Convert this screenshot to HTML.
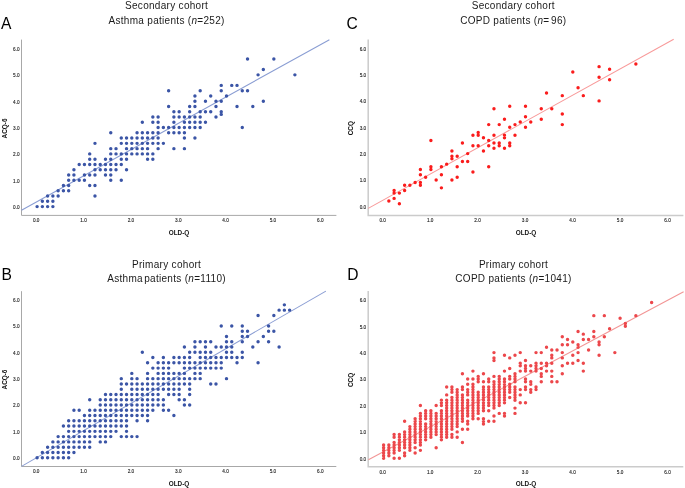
<!DOCTYPE html>
<html><head><meta charset="utf-8"><style>
html,body{margin:0;padding:0;background:#fff;width:685px;height:488px;overflow:hidden}
svg{display:block;will-change:transform}
text{font-family:"Liberation Sans", sans-serif}
.t{font-size:10px;text-anchor:middle;fill:#1a1a1a;letter-spacing:0.3px}
.tl{font-size:4.7px;text-anchor:middle;fill:#222;stroke:#222;stroke-width:0.12px}
.at{font-size:6.4px;font-weight:bold;text-anchor:middle;fill:#111}
.ax{fill:none}
</style></head><body>
<svg width="685" height="488" viewBox="0 0 685 488">
<text x="1.0" y="28.7" font-size="15.6" fill="#000">A</text>
<text x="166.6" y="9.2" class="t">Secondary cohort</text>
<text x="166.6" y="23.8" class="t">Asthma patients (<tspan font-style="italic">n</tspan>=252)</text>
<path d="M21.5 39.6V215.4H336.4" class="ax" stroke="#a8a8a8" stroke-width="1"/>
<text x="16.3" y="208.90" class="tl">0.0</text>
<text x="36.20" y="222.05" class="tl">0.0</text>
<text x="16.3" y="182.55" class="tl">1.0</text>
<text x="83.55" y="222.05" class="tl">1.0</text>
<text x="16.3" y="156.20" class="tl">2.0</text>
<text x="130.90" y="222.05" class="tl">2.0</text>
<text x="16.3" y="129.85" class="tl">3.0</text>
<text x="178.25" y="222.05" class="tl">3.0</text>
<text x="16.3" y="103.50" class="tl">4.0</text>
<text x="225.60" y="222.05" class="tl">4.0</text>
<text x="16.3" y="77.15" class="tl">5.0</text>
<text x="272.95" y="222.05" class="tl">5.0</text>
<text x="16.3" y="50.80" class="tl">6.0</text>
<text x="320.30" y="222.05" class="tl">6.0</text>
<text transform="translate(6.50 128.45) rotate(-90)" class="at">ACQ-6</text>
<text x="179.0" y="234.80" class="at">OLD-Q</text>
<line x1="21.5" y1="210.2" x2="329.4" y2="39.7" stroke="#8a9dd3" stroke-width="1.05"/>
<path fill="#3b55a6" d="M35.38 206.60a1.72 1.72 0 1 0 3.44 0a1.72 1.72 0 1 0 -3.44 0M40.64 206.60a1.72 1.72 0 1 0 3.44 0a1.72 1.72 0 1 0 -3.44 0M45.90 206.60a1.72 1.72 0 1 0 3.44 0a1.72 1.72 0 1 0 -3.44 0M51.16 206.60a1.72 1.72 0 1 0 3.44 0a1.72 1.72 0 1 0 -3.44 0M40.64 201.33a1.72 1.72 0 1 0 3.44 0a1.72 1.72 0 1 0 -3.44 0M45.90 201.33a1.72 1.72 0 1 0 3.44 0a1.72 1.72 0 1 0 -3.44 0M51.16 201.33a1.72 1.72 0 1 0 3.44 0a1.72 1.72 0 1 0 -3.44 0M45.90 196.06a1.72 1.72 0 1 0 3.44 0a1.72 1.72 0 1 0 -3.44 0M51.16 196.06a1.72 1.72 0 1 0 3.44 0a1.72 1.72 0 1 0 -3.44 0M56.42 196.06a1.72 1.72 0 1 0 3.44 0a1.72 1.72 0 1 0 -3.44 0M93.25 196.06a1.72 1.72 0 1 0 3.44 0a1.72 1.72 0 1 0 -3.44 0M56.42 190.79a1.72 1.72 0 1 0 3.44 0a1.72 1.72 0 1 0 -3.44 0M61.69 190.79a1.72 1.72 0 1 0 3.44 0a1.72 1.72 0 1 0 -3.44 0M66.95 190.79a1.72 1.72 0 1 0 3.44 0a1.72 1.72 0 1 0 -3.44 0M61.69 185.52a1.72 1.72 0 1 0 3.44 0a1.72 1.72 0 1 0 -3.44 0M66.95 185.52a1.72 1.72 0 1 0 3.44 0a1.72 1.72 0 1 0 -3.44 0M87.99 185.52a1.72 1.72 0 1 0 3.44 0a1.72 1.72 0 1 0 -3.44 0M93.25 185.52a1.72 1.72 0 1 0 3.44 0a1.72 1.72 0 1 0 -3.44 0M66.95 180.25a1.72 1.72 0 1 0 3.44 0a1.72 1.72 0 1 0 -3.44 0M72.21 180.25a1.72 1.72 0 1 0 3.44 0a1.72 1.72 0 1 0 -3.44 0M77.47 180.25a1.72 1.72 0 1 0 3.44 0a1.72 1.72 0 1 0 -3.44 0M82.73 180.25a1.72 1.72 0 1 0 3.44 0a1.72 1.72 0 1 0 -3.44 0M109.04 180.25a1.72 1.72 0 1 0 3.44 0a1.72 1.72 0 1 0 -3.44 0M119.56 180.25a1.72 1.72 0 1 0 3.44 0a1.72 1.72 0 1 0 -3.44 0M66.95 174.98a1.72 1.72 0 1 0 3.44 0a1.72 1.72 0 1 0 -3.44 0M72.21 174.98a1.72 1.72 0 1 0 3.44 0a1.72 1.72 0 1 0 -3.44 0M82.73 174.98a1.72 1.72 0 1 0 3.44 0a1.72 1.72 0 1 0 -3.44 0M87.99 174.98a1.72 1.72 0 1 0 3.44 0a1.72 1.72 0 1 0 -3.44 0M93.25 174.98a1.72 1.72 0 1 0 3.44 0a1.72 1.72 0 1 0 -3.44 0M103.77 174.98a1.72 1.72 0 1 0 3.44 0a1.72 1.72 0 1 0 -3.44 0M109.04 174.98a1.72 1.72 0 1 0 3.44 0a1.72 1.72 0 1 0 -3.44 0M72.21 169.71a1.72 1.72 0 1 0 3.44 0a1.72 1.72 0 1 0 -3.44 0M93.25 169.71a1.72 1.72 0 1 0 3.44 0a1.72 1.72 0 1 0 -3.44 0M98.51 169.71a1.72 1.72 0 1 0 3.44 0a1.72 1.72 0 1 0 -3.44 0M103.77 169.71a1.72 1.72 0 1 0 3.44 0a1.72 1.72 0 1 0 -3.44 0M109.04 169.71a1.72 1.72 0 1 0 3.44 0a1.72 1.72 0 1 0 -3.44 0M114.30 169.71a1.72 1.72 0 1 0 3.44 0a1.72 1.72 0 1 0 -3.44 0M124.82 169.71a1.72 1.72 0 1 0 3.44 0a1.72 1.72 0 1 0 -3.44 0M77.47 164.44a1.72 1.72 0 1 0 3.44 0a1.72 1.72 0 1 0 -3.44 0M82.73 164.44a1.72 1.72 0 1 0 3.44 0a1.72 1.72 0 1 0 -3.44 0M87.99 164.44a1.72 1.72 0 1 0 3.44 0a1.72 1.72 0 1 0 -3.44 0M93.25 164.44a1.72 1.72 0 1 0 3.44 0a1.72 1.72 0 1 0 -3.44 0M98.51 164.44a1.72 1.72 0 1 0 3.44 0a1.72 1.72 0 1 0 -3.44 0M103.77 164.44a1.72 1.72 0 1 0 3.44 0a1.72 1.72 0 1 0 -3.44 0M109.04 164.44a1.72 1.72 0 1 0 3.44 0a1.72 1.72 0 1 0 -3.44 0M114.30 164.44a1.72 1.72 0 1 0 3.44 0a1.72 1.72 0 1 0 -3.44 0M119.56 164.44a1.72 1.72 0 1 0 3.44 0a1.72 1.72 0 1 0 -3.44 0M87.99 159.17a1.72 1.72 0 1 0 3.44 0a1.72 1.72 0 1 0 -3.44 0M93.25 159.17a1.72 1.72 0 1 0 3.44 0a1.72 1.72 0 1 0 -3.44 0M103.77 159.17a1.72 1.72 0 1 0 3.44 0a1.72 1.72 0 1 0 -3.44 0M109.04 159.17a1.72 1.72 0 1 0 3.44 0a1.72 1.72 0 1 0 -3.44 0M119.56 159.17a1.72 1.72 0 1 0 3.44 0a1.72 1.72 0 1 0 -3.44 0M124.82 159.17a1.72 1.72 0 1 0 3.44 0a1.72 1.72 0 1 0 -3.44 0M145.86 159.17a1.72 1.72 0 1 0 3.44 0a1.72 1.72 0 1 0 -3.44 0M151.12 159.17a1.72 1.72 0 1 0 3.44 0a1.72 1.72 0 1 0 -3.44 0M87.99 153.90a1.72 1.72 0 1 0 3.44 0a1.72 1.72 0 1 0 -3.44 0M109.04 153.90a1.72 1.72 0 1 0 3.44 0a1.72 1.72 0 1 0 -3.44 0M114.30 153.90a1.72 1.72 0 1 0 3.44 0a1.72 1.72 0 1 0 -3.44 0M119.56 153.90a1.72 1.72 0 1 0 3.44 0a1.72 1.72 0 1 0 -3.44 0M124.82 153.90a1.72 1.72 0 1 0 3.44 0a1.72 1.72 0 1 0 -3.44 0M130.08 153.90a1.72 1.72 0 1 0 3.44 0a1.72 1.72 0 1 0 -3.44 0M135.34 153.90a1.72 1.72 0 1 0 3.44 0a1.72 1.72 0 1 0 -3.44 0M140.60 153.90a1.72 1.72 0 1 0 3.44 0a1.72 1.72 0 1 0 -3.44 0M145.86 153.90a1.72 1.72 0 1 0 3.44 0a1.72 1.72 0 1 0 -3.44 0M151.12 153.90a1.72 1.72 0 1 0 3.44 0a1.72 1.72 0 1 0 -3.44 0M109.04 148.63a1.72 1.72 0 1 0 3.44 0a1.72 1.72 0 1 0 -3.44 0M114.30 148.63a1.72 1.72 0 1 0 3.44 0a1.72 1.72 0 1 0 -3.44 0M124.82 148.63a1.72 1.72 0 1 0 3.44 0a1.72 1.72 0 1 0 -3.44 0M130.08 148.63a1.72 1.72 0 1 0 3.44 0a1.72 1.72 0 1 0 -3.44 0M135.34 148.63a1.72 1.72 0 1 0 3.44 0a1.72 1.72 0 1 0 -3.44 0M140.60 148.63a1.72 1.72 0 1 0 3.44 0a1.72 1.72 0 1 0 -3.44 0M145.86 148.63a1.72 1.72 0 1 0 3.44 0a1.72 1.72 0 1 0 -3.44 0M156.39 148.63a1.72 1.72 0 1 0 3.44 0a1.72 1.72 0 1 0 -3.44 0M172.17 148.63a1.72 1.72 0 1 0 3.44 0a1.72 1.72 0 1 0 -3.44 0M182.69 148.63a1.72 1.72 0 1 0 3.44 0a1.72 1.72 0 1 0 -3.44 0M93.25 143.36a1.72 1.72 0 1 0 3.44 0a1.72 1.72 0 1 0 -3.44 0M119.56 143.36a1.72 1.72 0 1 0 3.44 0a1.72 1.72 0 1 0 -3.44 0M124.82 143.36a1.72 1.72 0 1 0 3.44 0a1.72 1.72 0 1 0 -3.44 0M130.08 143.36a1.72 1.72 0 1 0 3.44 0a1.72 1.72 0 1 0 -3.44 0M135.34 143.36a1.72 1.72 0 1 0 3.44 0a1.72 1.72 0 1 0 -3.44 0M140.60 143.36a1.72 1.72 0 1 0 3.44 0a1.72 1.72 0 1 0 -3.44 0M145.86 143.36a1.72 1.72 0 1 0 3.44 0a1.72 1.72 0 1 0 -3.44 0M151.12 143.36a1.72 1.72 0 1 0 3.44 0a1.72 1.72 0 1 0 -3.44 0M156.39 143.36a1.72 1.72 0 1 0 3.44 0a1.72 1.72 0 1 0 -3.44 0M161.65 143.36a1.72 1.72 0 1 0 3.44 0a1.72 1.72 0 1 0 -3.44 0M119.56 138.09a1.72 1.72 0 1 0 3.44 0a1.72 1.72 0 1 0 -3.44 0M124.82 138.09a1.72 1.72 0 1 0 3.44 0a1.72 1.72 0 1 0 -3.44 0M130.08 138.09a1.72 1.72 0 1 0 3.44 0a1.72 1.72 0 1 0 -3.44 0M135.34 138.09a1.72 1.72 0 1 0 3.44 0a1.72 1.72 0 1 0 -3.44 0M140.60 138.09a1.72 1.72 0 1 0 3.44 0a1.72 1.72 0 1 0 -3.44 0M145.86 138.09a1.72 1.72 0 1 0 3.44 0a1.72 1.72 0 1 0 -3.44 0M151.12 138.09a1.72 1.72 0 1 0 3.44 0a1.72 1.72 0 1 0 -3.44 0M156.39 138.09a1.72 1.72 0 1 0 3.44 0a1.72 1.72 0 1 0 -3.44 0M182.69 138.09a1.72 1.72 0 1 0 3.44 0a1.72 1.72 0 1 0 -3.44 0M193.21 138.09a1.72 1.72 0 1 0 3.44 0a1.72 1.72 0 1 0 -3.44 0M109.04 132.82a1.72 1.72 0 1 0 3.44 0a1.72 1.72 0 1 0 -3.44 0M135.34 132.82a1.72 1.72 0 1 0 3.44 0a1.72 1.72 0 1 0 -3.44 0M140.60 132.82a1.72 1.72 0 1 0 3.44 0a1.72 1.72 0 1 0 -3.44 0M145.86 132.82a1.72 1.72 0 1 0 3.44 0a1.72 1.72 0 1 0 -3.44 0M151.12 132.82a1.72 1.72 0 1 0 3.44 0a1.72 1.72 0 1 0 -3.44 0M156.39 132.82a1.72 1.72 0 1 0 3.44 0a1.72 1.72 0 1 0 -3.44 0M166.91 132.82a1.72 1.72 0 1 0 3.44 0a1.72 1.72 0 1 0 -3.44 0M172.17 132.82a1.72 1.72 0 1 0 3.44 0a1.72 1.72 0 1 0 -3.44 0M177.43 132.82a1.72 1.72 0 1 0 3.44 0a1.72 1.72 0 1 0 -3.44 0M182.69 132.82a1.72 1.72 0 1 0 3.44 0a1.72 1.72 0 1 0 -3.44 0M156.39 127.55a1.72 1.72 0 1 0 3.44 0a1.72 1.72 0 1 0 -3.44 0M161.65 127.55a1.72 1.72 0 1 0 3.44 0a1.72 1.72 0 1 0 -3.44 0M166.91 127.55a1.72 1.72 0 1 0 3.44 0a1.72 1.72 0 1 0 -3.44 0M172.17 127.55a1.72 1.72 0 1 0 3.44 0a1.72 1.72 0 1 0 -3.44 0M177.43 127.55a1.72 1.72 0 1 0 3.44 0a1.72 1.72 0 1 0 -3.44 0M182.69 127.55a1.72 1.72 0 1 0 3.44 0a1.72 1.72 0 1 0 -3.44 0M187.95 127.55a1.72 1.72 0 1 0 3.44 0a1.72 1.72 0 1 0 -3.44 0M193.21 127.55a1.72 1.72 0 1 0 3.44 0a1.72 1.72 0 1 0 -3.44 0M198.47 127.55a1.72 1.72 0 1 0 3.44 0a1.72 1.72 0 1 0 -3.44 0M240.56 127.55a1.72 1.72 0 1 0 3.44 0a1.72 1.72 0 1 0 -3.44 0M140.60 122.28a1.72 1.72 0 1 0 3.44 0a1.72 1.72 0 1 0 -3.44 0M151.12 122.28a1.72 1.72 0 1 0 3.44 0a1.72 1.72 0 1 0 -3.44 0M156.39 122.28a1.72 1.72 0 1 0 3.44 0a1.72 1.72 0 1 0 -3.44 0M172.17 122.28a1.72 1.72 0 1 0 3.44 0a1.72 1.72 0 1 0 -3.44 0M182.69 122.28a1.72 1.72 0 1 0 3.44 0a1.72 1.72 0 1 0 -3.44 0M187.95 122.28a1.72 1.72 0 1 0 3.44 0a1.72 1.72 0 1 0 -3.44 0M193.21 122.28a1.72 1.72 0 1 0 3.44 0a1.72 1.72 0 1 0 -3.44 0M198.47 122.28a1.72 1.72 0 1 0 3.44 0a1.72 1.72 0 1 0 -3.44 0M203.74 122.28a1.72 1.72 0 1 0 3.44 0a1.72 1.72 0 1 0 -3.44 0M151.12 117.01a1.72 1.72 0 1 0 3.44 0a1.72 1.72 0 1 0 -3.44 0M156.39 117.01a1.72 1.72 0 1 0 3.44 0a1.72 1.72 0 1 0 -3.44 0M172.17 117.01a1.72 1.72 0 1 0 3.44 0a1.72 1.72 0 1 0 -3.44 0M177.43 117.01a1.72 1.72 0 1 0 3.44 0a1.72 1.72 0 1 0 -3.44 0M182.69 117.01a1.72 1.72 0 1 0 3.44 0a1.72 1.72 0 1 0 -3.44 0M187.95 117.01a1.72 1.72 0 1 0 3.44 0a1.72 1.72 0 1 0 -3.44 0M193.21 117.01a1.72 1.72 0 1 0 3.44 0a1.72 1.72 0 1 0 -3.44 0M198.47 117.01a1.72 1.72 0 1 0 3.44 0a1.72 1.72 0 1 0 -3.44 0M214.26 117.01a1.72 1.72 0 1 0 3.44 0a1.72 1.72 0 1 0 -3.44 0M219.52 114.37a1.72 1.72 0 1 0 3.44 0a1.72 1.72 0 1 0 -3.44 0M172.17 111.74a1.72 1.72 0 1 0 3.44 0a1.72 1.72 0 1 0 -3.44 0M177.43 111.74a1.72 1.72 0 1 0 3.44 0a1.72 1.72 0 1 0 -3.44 0M187.95 111.74a1.72 1.72 0 1 0 3.44 0a1.72 1.72 0 1 0 -3.44 0M198.47 111.74a1.72 1.72 0 1 0 3.44 0a1.72 1.72 0 1 0 -3.44 0M203.74 111.74a1.72 1.72 0 1 0 3.44 0a1.72 1.72 0 1 0 -3.44 0M209.00 111.74a1.72 1.72 0 1 0 3.44 0a1.72 1.72 0 1 0 -3.44 0M219.52 111.74a1.72 1.72 0 1 0 3.44 0a1.72 1.72 0 1 0 -3.44 0M166.91 106.47a1.72 1.72 0 1 0 3.44 0a1.72 1.72 0 1 0 -3.44 0M187.95 106.47a1.72 1.72 0 1 0 3.44 0a1.72 1.72 0 1 0 -3.44 0M193.21 106.47a1.72 1.72 0 1 0 3.44 0a1.72 1.72 0 1 0 -3.44 0M214.26 106.47a1.72 1.72 0 1 0 3.44 0a1.72 1.72 0 1 0 -3.44 0M235.30 106.47a1.72 1.72 0 1 0 3.44 0a1.72 1.72 0 1 0 -3.44 0M251.09 106.47a1.72 1.72 0 1 0 3.44 0a1.72 1.72 0 1 0 -3.44 0M193.21 101.20a1.72 1.72 0 1 0 3.44 0a1.72 1.72 0 1 0 -3.44 0M203.74 101.20a1.72 1.72 0 1 0 3.44 0a1.72 1.72 0 1 0 -3.44 0M214.26 101.20a1.72 1.72 0 1 0 3.44 0a1.72 1.72 0 1 0 -3.44 0M219.52 101.20a1.72 1.72 0 1 0 3.44 0a1.72 1.72 0 1 0 -3.44 0M261.61 101.20a1.72 1.72 0 1 0 3.44 0a1.72 1.72 0 1 0 -3.44 0M193.21 95.93a1.72 1.72 0 1 0 3.44 0a1.72 1.72 0 1 0 -3.44 0M209.00 95.93a1.72 1.72 0 1 0 3.44 0a1.72 1.72 0 1 0 -3.44 0M224.78 95.93a1.72 1.72 0 1 0 3.44 0a1.72 1.72 0 1 0 -3.44 0M166.91 90.66a1.72 1.72 0 1 0 3.44 0a1.72 1.72 0 1 0 -3.44 0M198.47 90.66a1.72 1.72 0 1 0 3.44 0a1.72 1.72 0 1 0 -3.44 0M219.52 90.66a1.72 1.72 0 1 0 3.44 0a1.72 1.72 0 1 0 -3.44 0M240.56 90.66a1.72 1.72 0 1 0 3.44 0a1.72 1.72 0 1 0 -3.44 0M245.82 90.66a1.72 1.72 0 1 0 3.44 0a1.72 1.72 0 1 0 -3.44 0M219.52 85.39a1.72 1.72 0 1 0 3.44 0a1.72 1.72 0 1 0 -3.44 0M230.04 85.39a1.72 1.72 0 1 0 3.44 0a1.72 1.72 0 1 0 -3.44 0M235.30 85.39a1.72 1.72 0 1 0 3.44 0a1.72 1.72 0 1 0 -3.44 0M256.35 74.85a1.72 1.72 0 1 0 3.44 0a1.72 1.72 0 1 0 -3.44 0M293.17 74.85a1.72 1.72 0 1 0 3.44 0a1.72 1.72 0 1 0 -3.44 0M261.61 69.58a1.72 1.72 0 1 0 3.44 0a1.72 1.72 0 1 0 -3.44 0M245.82 59.04a1.72 1.72 0 1 0 3.44 0a1.72 1.72 0 1 0 -3.44 0M272.13 59.04a1.72 1.72 0 1 0 3.44 0a1.72 1.72 0 1 0 -3.44 0"/>
<text x="346.6" y="28.7" font-size="15.6" fill="#000">C</text>
<text x="513.3" y="9.3" class="t">Secondary cohort</text>
<text x="513.3" y="23.8" class="t">COPD patients (<tspan font-style="italic">n</tspan>=<tspan dx="1.6">96</tspan>)</text>
<path d="M368.2 39.4V215.4H683.4" class="ax" stroke="#cbcbcb" stroke-width="1.5"/>
<text x="362.9" y="208.60" class="tl">0.0</text>
<text x="382.70" y="222.05" class="tl">0.0</text>
<text x="362.9" y="182.25" class="tl">1.0</text>
<text x="430.17" y="222.05" class="tl">1.0</text>
<text x="362.9" y="155.90" class="tl">2.0</text>
<text x="477.64" y="222.05" class="tl">2.0</text>
<text x="362.9" y="129.55" class="tl">3.0</text>
<text x="525.11" y="222.05" class="tl">3.0</text>
<text x="362.9" y="103.20" class="tl">4.0</text>
<text x="572.58" y="222.05" class="tl">4.0</text>
<text x="362.9" y="76.85" class="tl">5.0</text>
<text x="620.05" y="222.05" class="tl">5.0</text>
<text x="362.9" y="50.50" class="tl">6.0</text>
<text x="667.52" y="222.05" class="tl">6.0</text>
<text transform="translate(353.00 128.15) rotate(-90)" class="at">CCQ</text>
<text x="526.0" y="234.70" class="at">OLD-Q</text>
<line x1="368.2" y1="208.4" x2="673.7" y2="39.3" stroke="#f89a9a" stroke-width="1.05"/>
<path fill="#fa1c1c" d="M387.14 201.03a1.72 1.72 0 1 0 3.44 0a1.72 1.72 0 1 0 -3.44 0M392.39 198.40a1.72 1.72 0 1 0 3.44 0a1.72 1.72 0 1 0 -3.44 0M397.65 203.67a1.72 1.72 0 1 0 3.44 0a1.72 1.72 0 1 0 -3.44 0M392.39 193.12a1.72 1.72 0 1 0 3.44 0a1.72 1.72 0 1 0 -3.44 0M392.39 190.49a1.72 1.72 0 1 0 3.44 0a1.72 1.72 0 1 0 -3.44 0M397.65 193.12a1.72 1.72 0 1 0 3.44 0a1.72 1.72 0 1 0 -3.44 0M402.90 190.49a1.72 1.72 0 1 0 3.44 0a1.72 1.72 0 1 0 -3.44 0M402.90 185.22a1.72 1.72 0 1 0 3.44 0a1.72 1.72 0 1 0 -3.44 0M408.16 185.22a1.72 1.72 0 1 0 3.44 0a1.72 1.72 0 1 0 -3.44 0M413.41 182.59a1.72 1.72 0 1 0 3.44 0a1.72 1.72 0 1 0 -3.44 0M418.67 182.59a1.72 1.72 0 1 0 3.44 0a1.72 1.72 0 1 0 -3.44 0M418.67 185.22a1.72 1.72 0 1 0 3.44 0a1.72 1.72 0 1 0 -3.44 0M418.67 174.68a1.72 1.72 0 1 0 3.44 0a1.72 1.72 0 1 0 -3.44 0M418.67 169.41a1.72 1.72 0 1 0 3.44 0a1.72 1.72 0 1 0 -3.44 0M423.92 177.31a1.72 1.72 0 1 0 3.44 0a1.72 1.72 0 1 0 -3.44 0M429.18 166.78a1.72 1.72 0 1 0 3.44 0a1.72 1.72 0 1 0 -3.44 0M429.18 169.41a1.72 1.72 0 1 0 3.44 0a1.72 1.72 0 1 0 -3.44 0M429.18 140.43a1.72 1.72 0 1 0 3.44 0a1.72 1.72 0 1 0 -3.44 0M434.44 179.95a1.72 1.72 0 1 0 3.44 0a1.72 1.72 0 1 0 -3.44 0M439.69 166.78a1.72 1.72 0 1 0 3.44 0a1.72 1.72 0 1 0 -3.44 0M439.69 174.68a1.72 1.72 0 1 0 3.44 0a1.72 1.72 0 1 0 -3.44 0M439.69 187.86a1.72 1.72 0 1 0 3.44 0a1.72 1.72 0 1 0 -3.44 0M444.95 164.14a1.72 1.72 0 1 0 3.44 0a1.72 1.72 0 1 0 -3.44 0M450.20 179.95a1.72 1.72 0 1 0 3.44 0a1.72 1.72 0 1 0 -3.44 0M455.46 177.31a1.72 1.72 0 1 0 3.44 0a1.72 1.72 0 1 0 -3.44 0M455.46 166.78a1.72 1.72 0 1 0 3.44 0a1.72 1.72 0 1 0 -3.44 0M450.20 158.87a1.72 1.72 0 1 0 3.44 0a1.72 1.72 0 1 0 -3.44 0M450.20 156.24a1.72 1.72 0 1 0 3.44 0a1.72 1.72 0 1 0 -3.44 0M450.20 150.97a1.72 1.72 0 1 0 3.44 0a1.72 1.72 0 1 0 -3.44 0M455.46 156.24a1.72 1.72 0 1 0 3.44 0a1.72 1.72 0 1 0 -3.44 0M460.71 161.50a1.72 1.72 0 1 0 3.44 0a1.72 1.72 0 1 0 -3.44 0M460.71 143.06a1.72 1.72 0 1 0 3.44 0a1.72 1.72 0 1 0 -3.44 0M465.97 161.50a1.72 1.72 0 1 0 3.44 0a1.72 1.72 0 1 0 -3.44 0M465.97 153.60a1.72 1.72 0 1 0 3.44 0a1.72 1.72 0 1 0 -3.44 0M471.22 172.05a1.72 1.72 0 1 0 3.44 0a1.72 1.72 0 1 0 -3.44 0M471.22 145.69a1.72 1.72 0 1 0 3.44 0a1.72 1.72 0 1 0 -3.44 0M471.22 135.16a1.72 1.72 0 1 0 3.44 0a1.72 1.72 0 1 0 -3.44 0M476.48 145.69a1.72 1.72 0 1 0 3.44 0a1.72 1.72 0 1 0 -3.44 0M476.48 132.52a1.72 1.72 0 1 0 3.44 0a1.72 1.72 0 1 0 -3.44 0M476.48 135.16a1.72 1.72 0 1 0 3.44 0a1.72 1.72 0 1 0 -3.44 0M481.74 150.97a1.72 1.72 0 1 0 3.44 0a1.72 1.72 0 1 0 -3.44 0M481.74 137.79a1.72 1.72 0 1 0 3.44 0a1.72 1.72 0 1 0 -3.44 0M486.99 166.78a1.72 1.72 0 1 0 3.44 0a1.72 1.72 0 1 0 -3.44 0M486.99 145.69a1.72 1.72 0 1 0 3.44 0a1.72 1.72 0 1 0 -3.44 0M486.99 140.43a1.72 1.72 0 1 0 3.44 0a1.72 1.72 0 1 0 -3.44 0M486.99 124.62a1.72 1.72 0 1 0 3.44 0a1.72 1.72 0 1 0 -3.44 0M492.25 148.33a1.72 1.72 0 1 0 3.44 0a1.72 1.72 0 1 0 -3.44 0M492.25 143.06a1.72 1.72 0 1 0 3.44 0a1.72 1.72 0 1 0 -3.44 0M492.25 135.16a1.72 1.72 0 1 0 3.44 0a1.72 1.72 0 1 0 -3.44 0M492.25 108.81a1.72 1.72 0 1 0 3.44 0a1.72 1.72 0 1 0 -3.44 0M497.50 143.06a1.72 1.72 0 1 0 3.44 0a1.72 1.72 0 1 0 -3.44 0M497.50 145.69a1.72 1.72 0 1 0 3.44 0a1.72 1.72 0 1 0 -3.44 0M497.50 124.62a1.72 1.72 0 1 0 3.44 0a1.72 1.72 0 1 0 -3.44 0M502.76 148.33a1.72 1.72 0 1 0 3.44 0a1.72 1.72 0 1 0 -3.44 0M502.76 135.16a1.72 1.72 0 1 0 3.44 0a1.72 1.72 0 1 0 -3.44 0M502.76 137.79a1.72 1.72 0 1 0 3.44 0a1.72 1.72 0 1 0 -3.44 0M502.76 119.34a1.72 1.72 0 1 0 3.44 0a1.72 1.72 0 1 0 -3.44 0M508.01 143.06a1.72 1.72 0 1 0 3.44 0a1.72 1.72 0 1 0 -3.44 0M508.01 145.69a1.72 1.72 0 1 0 3.44 0a1.72 1.72 0 1 0 -3.44 0M508.01 127.25a1.72 1.72 0 1 0 3.44 0a1.72 1.72 0 1 0 -3.44 0M508.01 106.17a1.72 1.72 0 1 0 3.44 0a1.72 1.72 0 1 0 -3.44 0M513.27 135.16a1.72 1.72 0 1 0 3.44 0a1.72 1.72 0 1 0 -3.44 0M513.27 124.62a1.72 1.72 0 1 0 3.44 0a1.72 1.72 0 1 0 -3.44 0M518.52 121.98a1.72 1.72 0 1 0 3.44 0a1.72 1.72 0 1 0 -3.44 0M523.78 127.25a1.72 1.72 0 1 0 3.44 0a1.72 1.72 0 1 0 -3.44 0M523.78 116.71a1.72 1.72 0 1 0 3.44 0a1.72 1.72 0 1 0 -3.44 0M523.78 106.17a1.72 1.72 0 1 0 3.44 0a1.72 1.72 0 1 0 -3.44 0M529.04 121.98a1.72 1.72 0 1 0 3.44 0a1.72 1.72 0 1 0 -3.44 0M539.55 119.34a1.72 1.72 0 1 0 3.44 0a1.72 1.72 0 1 0 -3.44 0M539.55 108.81a1.72 1.72 0 1 0 3.44 0a1.72 1.72 0 1 0 -3.44 0M544.80 93.00a1.72 1.72 0 1 0 3.44 0a1.72 1.72 0 1 0 -3.44 0M550.06 108.81a1.72 1.72 0 1 0 3.44 0a1.72 1.72 0 1 0 -3.44 0M560.57 124.62a1.72 1.72 0 1 0 3.44 0a1.72 1.72 0 1 0 -3.44 0M560.57 114.08a1.72 1.72 0 1 0 3.44 0a1.72 1.72 0 1 0 -3.44 0M560.57 95.63a1.72 1.72 0 1 0 3.44 0a1.72 1.72 0 1 0 -3.44 0M571.08 71.91a1.72 1.72 0 1 0 3.44 0a1.72 1.72 0 1 0 -3.44 0M576.34 87.73a1.72 1.72 0 1 0 3.44 0a1.72 1.72 0 1 0 -3.44 0M581.59 95.63a1.72 1.72 0 1 0 3.44 0a1.72 1.72 0 1 0 -3.44 0M597.36 66.64a1.72 1.72 0 1 0 3.44 0a1.72 1.72 0 1 0 -3.44 0M597.36 77.19a1.72 1.72 0 1 0 3.44 0a1.72 1.72 0 1 0 -3.44 0M597.36 100.90a1.72 1.72 0 1 0 3.44 0a1.72 1.72 0 1 0 -3.44 0M607.87 69.28a1.72 1.72 0 1 0 3.44 0a1.72 1.72 0 1 0 -3.44 0M607.87 79.82a1.72 1.72 0 1 0 3.44 0a1.72 1.72 0 1 0 -3.44 0M634.15 64.01a1.72 1.72 0 1 0 3.44 0a1.72 1.72 0 1 0 -3.44 0"/>
<text x="1.4" y="279.8" font-size="15.6" fill="#000">B</text>
<text x="166.6" y="267.8" class="t">Primary cohort</text>
<text x="166.6" y="281.9" class="t">Asthma<tspan dx="-1.9"> </tspan>patients (<tspan font-style="italic">n</tspan>=1110)</text>
<path d="M21.5 291.2V466.5H336.3" class="ax" stroke="#a8a8a8" stroke-width="1"/>
<text x="16.3" y="460.00" class="tl">0.0</text>
<text x="36.20" y="473.45" class="tl">0.0</text>
<text x="16.3" y="433.65" class="tl">1.0</text>
<text x="83.55" y="473.45" class="tl">1.0</text>
<text x="16.3" y="407.30" class="tl">2.0</text>
<text x="130.90" y="473.45" class="tl">2.0</text>
<text x="16.3" y="380.95" class="tl">3.0</text>
<text x="178.25" y="473.45" class="tl">3.0</text>
<text x="16.3" y="354.60" class="tl">4.0</text>
<text x="225.60" y="473.45" class="tl">4.0</text>
<text x="16.3" y="328.25" class="tl">5.0</text>
<text x="272.95" y="473.45" class="tl">5.0</text>
<text x="16.3" y="301.90" class="tl">6.0</text>
<text x="320.30" y="473.45" class="tl">6.0</text>
<text transform="translate(6.50 379.55) rotate(-90)" class="at">ACQ-6</text>
<text x="179.0" y="485.90" class="at">OLD-Q</text>
<line x1="21.5" y1="466.4" x2="325.9" y2="291.1" stroke="#8a9dd3" stroke-width="1.05"/>
<path fill="#3b55a6" d="M35.38 457.70a1.72 1.72 0 1 0 3.44 0a1.72 1.72 0 1 0 -3.44 0M40.64 457.70a1.72 1.72 0 1 0 3.44 0a1.72 1.72 0 1 0 -3.44 0M40.64 452.43a1.72 1.72 0 1 0 3.44 0a1.72 1.72 0 1 0 -3.44 0M45.90 457.70a1.72 1.72 0 1 0 3.44 0a1.72 1.72 0 1 0 -3.44 0M45.90 452.43a1.72 1.72 0 1 0 3.44 0a1.72 1.72 0 1 0 -3.44 0M45.90 447.16a1.72 1.72 0 1 0 3.44 0a1.72 1.72 0 1 0 -3.44 0M51.16 457.70a1.72 1.72 0 1 0 3.44 0a1.72 1.72 0 1 0 -3.44 0M51.16 452.43a1.72 1.72 0 1 0 3.44 0a1.72 1.72 0 1 0 -3.44 0M51.16 447.16a1.72 1.72 0 1 0 3.44 0a1.72 1.72 0 1 0 -3.44 0M51.16 441.89a1.72 1.72 0 1 0 3.44 0a1.72 1.72 0 1 0 -3.44 0M56.42 457.70a1.72 1.72 0 1 0 3.44 0a1.72 1.72 0 1 0 -3.44 0M56.42 452.43a1.72 1.72 0 1 0 3.44 0a1.72 1.72 0 1 0 -3.44 0M56.42 447.16a1.72 1.72 0 1 0 3.44 0a1.72 1.72 0 1 0 -3.44 0M56.42 441.89a1.72 1.72 0 1 0 3.44 0a1.72 1.72 0 1 0 -3.44 0M56.42 436.62a1.72 1.72 0 1 0 3.44 0a1.72 1.72 0 1 0 -3.44 0M61.69 457.70a1.72 1.72 0 1 0 3.44 0a1.72 1.72 0 1 0 -3.44 0M61.69 452.43a1.72 1.72 0 1 0 3.44 0a1.72 1.72 0 1 0 -3.44 0M61.69 447.16a1.72 1.72 0 1 0 3.44 0a1.72 1.72 0 1 0 -3.44 0M61.69 441.89a1.72 1.72 0 1 0 3.44 0a1.72 1.72 0 1 0 -3.44 0M61.69 436.62a1.72 1.72 0 1 0 3.44 0a1.72 1.72 0 1 0 -3.44 0M61.69 426.08a1.72 1.72 0 1 0 3.44 0a1.72 1.72 0 1 0 -3.44 0M66.95 457.70a1.72 1.72 0 1 0 3.44 0a1.72 1.72 0 1 0 -3.44 0M66.95 452.43a1.72 1.72 0 1 0 3.44 0a1.72 1.72 0 1 0 -3.44 0M66.95 447.16a1.72 1.72 0 1 0 3.44 0a1.72 1.72 0 1 0 -3.44 0M66.95 441.89a1.72 1.72 0 1 0 3.44 0a1.72 1.72 0 1 0 -3.44 0M66.95 436.62a1.72 1.72 0 1 0 3.44 0a1.72 1.72 0 1 0 -3.44 0M66.95 431.35a1.72 1.72 0 1 0 3.44 0a1.72 1.72 0 1 0 -3.44 0M66.95 426.08a1.72 1.72 0 1 0 3.44 0a1.72 1.72 0 1 0 -3.44 0M66.95 420.81a1.72 1.72 0 1 0 3.44 0a1.72 1.72 0 1 0 -3.44 0M72.21 452.43a1.72 1.72 0 1 0 3.44 0a1.72 1.72 0 1 0 -3.44 0M72.21 447.16a1.72 1.72 0 1 0 3.44 0a1.72 1.72 0 1 0 -3.44 0M72.21 441.89a1.72 1.72 0 1 0 3.44 0a1.72 1.72 0 1 0 -3.44 0M72.21 436.62a1.72 1.72 0 1 0 3.44 0a1.72 1.72 0 1 0 -3.44 0M72.21 431.35a1.72 1.72 0 1 0 3.44 0a1.72 1.72 0 1 0 -3.44 0M72.21 426.08a1.72 1.72 0 1 0 3.44 0a1.72 1.72 0 1 0 -3.44 0M72.21 420.81a1.72 1.72 0 1 0 3.44 0a1.72 1.72 0 1 0 -3.44 0M72.21 410.27a1.72 1.72 0 1 0 3.44 0a1.72 1.72 0 1 0 -3.44 0M77.47 447.16a1.72 1.72 0 1 0 3.44 0a1.72 1.72 0 1 0 -3.44 0M77.47 441.89a1.72 1.72 0 1 0 3.44 0a1.72 1.72 0 1 0 -3.44 0M77.47 436.62a1.72 1.72 0 1 0 3.44 0a1.72 1.72 0 1 0 -3.44 0M77.47 431.35a1.72 1.72 0 1 0 3.44 0a1.72 1.72 0 1 0 -3.44 0M77.47 426.08a1.72 1.72 0 1 0 3.44 0a1.72 1.72 0 1 0 -3.44 0M77.47 420.81a1.72 1.72 0 1 0 3.44 0a1.72 1.72 0 1 0 -3.44 0M77.47 410.27a1.72 1.72 0 1 0 3.44 0a1.72 1.72 0 1 0 -3.44 0M82.73 447.16a1.72 1.72 0 1 0 3.44 0a1.72 1.72 0 1 0 -3.44 0M82.73 441.89a1.72 1.72 0 1 0 3.44 0a1.72 1.72 0 1 0 -3.44 0M82.73 436.62a1.72 1.72 0 1 0 3.44 0a1.72 1.72 0 1 0 -3.44 0M82.73 431.35a1.72 1.72 0 1 0 3.44 0a1.72 1.72 0 1 0 -3.44 0M82.73 426.08a1.72 1.72 0 1 0 3.44 0a1.72 1.72 0 1 0 -3.44 0M82.73 420.81a1.72 1.72 0 1 0 3.44 0a1.72 1.72 0 1 0 -3.44 0M82.73 415.54a1.72 1.72 0 1 0 3.44 0a1.72 1.72 0 1 0 -3.44 0M87.99 447.16a1.72 1.72 0 1 0 3.44 0a1.72 1.72 0 1 0 -3.44 0M87.99 441.89a1.72 1.72 0 1 0 3.44 0a1.72 1.72 0 1 0 -3.44 0M87.99 436.62a1.72 1.72 0 1 0 3.44 0a1.72 1.72 0 1 0 -3.44 0M87.99 431.35a1.72 1.72 0 1 0 3.44 0a1.72 1.72 0 1 0 -3.44 0M87.99 426.08a1.72 1.72 0 1 0 3.44 0a1.72 1.72 0 1 0 -3.44 0M87.99 420.81a1.72 1.72 0 1 0 3.44 0a1.72 1.72 0 1 0 -3.44 0M87.99 415.54a1.72 1.72 0 1 0 3.44 0a1.72 1.72 0 1 0 -3.44 0M87.99 410.27a1.72 1.72 0 1 0 3.44 0a1.72 1.72 0 1 0 -3.44 0M87.99 399.73a1.72 1.72 0 1 0 3.44 0a1.72 1.72 0 1 0 -3.44 0M93.25 436.62a1.72 1.72 0 1 0 3.44 0a1.72 1.72 0 1 0 -3.44 0M93.25 431.35a1.72 1.72 0 1 0 3.44 0a1.72 1.72 0 1 0 -3.44 0M93.25 426.08a1.72 1.72 0 1 0 3.44 0a1.72 1.72 0 1 0 -3.44 0M93.25 420.81a1.72 1.72 0 1 0 3.44 0a1.72 1.72 0 1 0 -3.44 0M93.25 415.54a1.72 1.72 0 1 0 3.44 0a1.72 1.72 0 1 0 -3.44 0M93.25 410.27a1.72 1.72 0 1 0 3.44 0a1.72 1.72 0 1 0 -3.44 0M98.51 441.89a1.72 1.72 0 1 0 3.44 0a1.72 1.72 0 1 0 -3.44 0M98.51 436.62a1.72 1.72 0 1 0 3.44 0a1.72 1.72 0 1 0 -3.44 0M98.51 431.35a1.72 1.72 0 1 0 3.44 0a1.72 1.72 0 1 0 -3.44 0M98.51 426.08a1.72 1.72 0 1 0 3.44 0a1.72 1.72 0 1 0 -3.44 0M98.51 420.81a1.72 1.72 0 1 0 3.44 0a1.72 1.72 0 1 0 -3.44 0M98.51 415.54a1.72 1.72 0 1 0 3.44 0a1.72 1.72 0 1 0 -3.44 0M98.51 410.27a1.72 1.72 0 1 0 3.44 0a1.72 1.72 0 1 0 -3.44 0M98.51 405.00a1.72 1.72 0 1 0 3.44 0a1.72 1.72 0 1 0 -3.44 0M98.51 399.73a1.72 1.72 0 1 0 3.44 0a1.72 1.72 0 1 0 -3.44 0M103.77 441.89a1.72 1.72 0 1 0 3.44 0a1.72 1.72 0 1 0 -3.44 0M103.77 436.62a1.72 1.72 0 1 0 3.44 0a1.72 1.72 0 1 0 -3.44 0M103.77 431.35a1.72 1.72 0 1 0 3.44 0a1.72 1.72 0 1 0 -3.44 0M103.77 426.08a1.72 1.72 0 1 0 3.44 0a1.72 1.72 0 1 0 -3.44 0M103.77 420.81a1.72 1.72 0 1 0 3.44 0a1.72 1.72 0 1 0 -3.44 0M103.77 415.54a1.72 1.72 0 1 0 3.44 0a1.72 1.72 0 1 0 -3.44 0M103.77 410.27a1.72 1.72 0 1 0 3.44 0a1.72 1.72 0 1 0 -3.44 0M103.77 405.00a1.72 1.72 0 1 0 3.44 0a1.72 1.72 0 1 0 -3.44 0M103.77 399.73a1.72 1.72 0 1 0 3.44 0a1.72 1.72 0 1 0 -3.44 0M103.77 394.46a1.72 1.72 0 1 0 3.44 0a1.72 1.72 0 1 0 -3.44 0M109.04 436.62a1.72 1.72 0 1 0 3.44 0a1.72 1.72 0 1 0 -3.44 0M109.04 431.35a1.72 1.72 0 1 0 3.44 0a1.72 1.72 0 1 0 -3.44 0M109.04 426.08a1.72 1.72 0 1 0 3.44 0a1.72 1.72 0 1 0 -3.44 0M109.04 420.81a1.72 1.72 0 1 0 3.44 0a1.72 1.72 0 1 0 -3.44 0M109.04 415.54a1.72 1.72 0 1 0 3.44 0a1.72 1.72 0 1 0 -3.44 0M109.04 410.27a1.72 1.72 0 1 0 3.44 0a1.72 1.72 0 1 0 -3.44 0M109.04 405.00a1.72 1.72 0 1 0 3.44 0a1.72 1.72 0 1 0 -3.44 0M109.04 399.73a1.72 1.72 0 1 0 3.44 0a1.72 1.72 0 1 0 -3.44 0M109.04 394.46a1.72 1.72 0 1 0 3.44 0a1.72 1.72 0 1 0 -3.44 0M114.30 431.35a1.72 1.72 0 1 0 3.44 0a1.72 1.72 0 1 0 -3.44 0M114.30 426.08a1.72 1.72 0 1 0 3.44 0a1.72 1.72 0 1 0 -3.44 0M114.30 420.81a1.72 1.72 0 1 0 3.44 0a1.72 1.72 0 1 0 -3.44 0M114.30 415.54a1.72 1.72 0 1 0 3.44 0a1.72 1.72 0 1 0 -3.44 0M114.30 410.27a1.72 1.72 0 1 0 3.44 0a1.72 1.72 0 1 0 -3.44 0M114.30 405.00a1.72 1.72 0 1 0 3.44 0a1.72 1.72 0 1 0 -3.44 0M114.30 399.73a1.72 1.72 0 1 0 3.44 0a1.72 1.72 0 1 0 -3.44 0M114.30 394.46a1.72 1.72 0 1 0 3.44 0a1.72 1.72 0 1 0 -3.44 0M119.56 436.62a1.72 1.72 0 1 0 3.44 0a1.72 1.72 0 1 0 -3.44 0M119.56 426.08a1.72 1.72 0 1 0 3.44 0a1.72 1.72 0 1 0 -3.44 0M119.56 420.81a1.72 1.72 0 1 0 3.44 0a1.72 1.72 0 1 0 -3.44 0M119.56 415.54a1.72 1.72 0 1 0 3.44 0a1.72 1.72 0 1 0 -3.44 0M119.56 410.27a1.72 1.72 0 1 0 3.44 0a1.72 1.72 0 1 0 -3.44 0M119.56 405.00a1.72 1.72 0 1 0 3.44 0a1.72 1.72 0 1 0 -3.44 0M119.56 399.73a1.72 1.72 0 1 0 3.44 0a1.72 1.72 0 1 0 -3.44 0M119.56 394.46a1.72 1.72 0 1 0 3.44 0a1.72 1.72 0 1 0 -3.44 0M119.56 389.19a1.72 1.72 0 1 0 3.44 0a1.72 1.72 0 1 0 -3.44 0M119.56 383.92a1.72 1.72 0 1 0 3.44 0a1.72 1.72 0 1 0 -3.44 0M119.56 378.65a1.72 1.72 0 1 0 3.44 0a1.72 1.72 0 1 0 -3.44 0M124.82 436.62a1.72 1.72 0 1 0 3.44 0a1.72 1.72 0 1 0 -3.44 0M124.82 431.35a1.72 1.72 0 1 0 3.44 0a1.72 1.72 0 1 0 -3.44 0M124.82 426.08a1.72 1.72 0 1 0 3.44 0a1.72 1.72 0 1 0 -3.44 0M124.82 420.81a1.72 1.72 0 1 0 3.44 0a1.72 1.72 0 1 0 -3.44 0M124.82 415.54a1.72 1.72 0 1 0 3.44 0a1.72 1.72 0 1 0 -3.44 0M124.82 410.27a1.72 1.72 0 1 0 3.44 0a1.72 1.72 0 1 0 -3.44 0M124.82 405.00a1.72 1.72 0 1 0 3.44 0a1.72 1.72 0 1 0 -3.44 0M124.82 399.73a1.72 1.72 0 1 0 3.44 0a1.72 1.72 0 1 0 -3.44 0M124.82 394.46a1.72 1.72 0 1 0 3.44 0a1.72 1.72 0 1 0 -3.44 0M124.82 383.92a1.72 1.72 0 1 0 3.44 0a1.72 1.72 0 1 0 -3.44 0M130.08 436.62a1.72 1.72 0 1 0 3.44 0a1.72 1.72 0 1 0 -3.44 0M130.08 415.54a1.72 1.72 0 1 0 3.44 0a1.72 1.72 0 1 0 -3.44 0M130.08 410.27a1.72 1.72 0 1 0 3.44 0a1.72 1.72 0 1 0 -3.44 0M130.08 405.00a1.72 1.72 0 1 0 3.44 0a1.72 1.72 0 1 0 -3.44 0M130.08 399.73a1.72 1.72 0 1 0 3.44 0a1.72 1.72 0 1 0 -3.44 0M130.08 394.46a1.72 1.72 0 1 0 3.44 0a1.72 1.72 0 1 0 -3.44 0M130.08 389.19a1.72 1.72 0 1 0 3.44 0a1.72 1.72 0 1 0 -3.44 0M130.08 383.92a1.72 1.72 0 1 0 3.44 0a1.72 1.72 0 1 0 -3.44 0M130.08 378.65a1.72 1.72 0 1 0 3.44 0a1.72 1.72 0 1 0 -3.44 0M130.08 373.38a1.72 1.72 0 1 0 3.44 0a1.72 1.72 0 1 0 -3.44 0M135.34 436.62a1.72 1.72 0 1 0 3.44 0a1.72 1.72 0 1 0 -3.44 0M135.34 420.81a1.72 1.72 0 1 0 3.44 0a1.72 1.72 0 1 0 -3.44 0M135.34 415.54a1.72 1.72 0 1 0 3.44 0a1.72 1.72 0 1 0 -3.44 0M135.34 410.27a1.72 1.72 0 1 0 3.44 0a1.72 1.72 0 1 0 -3.44 0M135.34 405.00a1.72 1.72 0 1 0 3.44 0a1.72 1.72 0 1 0 -3.44 0M135.34 399.73a1.72 1.72 0 1 0 3.44 0a1.72 1.72 0 1 0 -3.44 0M135.34 394.46a1.72 1.72 0 1 0 3.44 0a1.72 1.72 0 1 0 -3.44 0M135.34 389.19a1.72 1.72 0 1 0 3.44 0a1.72 1.72 0 1 0 -3.44 0M135.34 383.92a1.72 1.72 0 1 0 3.44 0a1.72 1.72 0 1 0 -3.44 0M135.34 378.65a1.72 1.72 0 1 0 3.44 0a1.72 1.72 0 1 0 -3.44 0M140.60 415.54a1.72 1.72 0 1 0 3.44 0a1.72 1.72 0 1 0 -3.44 0M140.60 410.27a1.72 1.72 0 1 0 3.44 0a1.72 1.72 0 1 0 -3.44 0M140.60 405.00a1.72 1.72 0 1 0 3.44 0a1.72 1.72 0 1 0 -3.44 0M140.60 399.73a1.72 1.72 0 1 0 3.44 0a1.72 1.72 0 1 0 -3.44 0M140.60 394.46a1.72 1.72 0 1 0 3.44 0a1.72 1.72 0 1 0 -3.44 0M140.60 389.19a1.72 1.72 0 1 0 3.44 0a1.72 1.72 0 1 0 -3.44 0M140.60 383.92a1.72 1.72 0 1 0 3.44 0a1.72 1.72 0 1 0 -3.44 0M140.60 352.30a1.72 1.72 0 1 0 3.44 0a1.72 1.72 0 1 0 -3.44 0M145.86 420.81a1.72 1.72 0 1 0 3.44 0a1.72 1.72 0 1 0 -3.44 0M145.86 415.54a1.72 1.72 0 1 0 3.44 0a1.72 1.72 0 1 0 -3.44 0M145.86 410.27a1.72 1.72 0 1 0 3.44 0a1.72 1.72 0 1 0 -3.44 0M145.86 405.00a1.72 1.72 0 1 0 3.44 0a1.72 1.72 0 1 0 -3.44 0M145.86 399.73a1.72 1.72 0 1 0 3.44 0a1.72 1.72 0 1 0 -3.44 0M145.86 394.46a1.72 1.72 0 1 0 3.44 0a1.72 1.72 0 1 0 -3.44 0M145.86 389.19a1.72 1.72 0 1 0 3.44 0a1.72 1.72 0 1 0 -3.44 0M145.86 383.92a1.72 1.72 0 1 0 3.44 0a1.72 1.72 0 1 0 -3.44 0M145.86 378.65a1.72 1.72 0 1 0 3.44 0a1.72 1.72 0 1 0 -3.44 0M145.86 373.38a1.72 1.72 0 1 0 3.44 0a1.72 1.72 0 1 0 -3.44 0M145.86 362.84a1.72 1.72 0 1 0 3.44 0a1.72 1.72 0 1 0 -3.44 0M151.12 410.27a1.72 1.72 0 1 0 3.44 0a1.72 1.72 0 1 0 -3.44 0M151.12 405.00a1.72 1.72 0 1 0 3.44 0a1.72 1.72 0 1 0 -3.44 0M151.12 399.73a1.72 1.72 0 1 0 3.44 0a1.72 1.72 0 1 0 -3.44 0M151.12 394.46a1.72 1.72 0 1 0 3.44 0a1.72 1.72 0 1 0 -3.44 0M151.12 389.19a1.72 1.72 0 1 0 3.44 0a1.72 1.72 0 1 0 -3.44 0M151.12 383.92a1.72 1.72 0 1 0 3.44 0a1.72 1.72 0 1 0 -3.44 0M151.12 378.65a1.72 1.72 0 1 0 3.44 0a1.72 1.72 0 1 0 -3.44 0M151.12 368.11a1.72 1.72 0 1 0 3.44 0a1.72 1.72 0 1 0 -3.44 0M151.12 357.57a1.72 1.72 0 1 0 3.44 0a1.72 1.72 0 1 0 -3.44 0M156.39 405.00a1.72 1.72 0 1 0 3.44 0a1.72 1.72 0 1 0 -3.44 0M156.39 399.73a1.72 1.72 0 1 0 3.44 0a1.72 1.72 0 1 0 -3.44 0M156.39 394.46a1.72 1.72 0 1 0 3.44 0a1.72 1.72 0 1 0 -3.44 0M156.39 389.19a1.72 1.72 0 1 0 3.44 0a1.72 1.72 0 1 0 -3.44 0M156.39 383.92a1.72 1.72 0 1 0 3.44 0a1.72 1.72 0 1 0 -3.44 0M156.39 378.65a1.72 1.72 0 1 0 3.44 0a1.72 1.72 0 1 0 -3.44 0M156.39 373.38a1.72 1.72 0 1 0 3.44 0a1.72 1.72 0 1 0 -3.44 0M156.39 368.11a1.72 1.72 0 1 0 3.44 0a1.72 1.72 0 1 0 -3.44 0M156.39 362.84a1.72 1.72 0 1 0 3.44 0a1.72 1.72 0 1 0 -3.44 0M161.65 410.27a1.72 1.72 0 1 0 3.44 0a1.72 1.72 0 1 0 -3.44 0M161.65 405.00a1.72 1.72 0 1 0 3.44 0a1.72 1.72 0 1 0 -3.44 0M161.65 399.73a1.72 1.72 0 1 0 3.44 0a1.72 1.72 0 1 0 -3.44 0M161.65 389.19a1.72 1.72 0 1 0 3.44 0a1.72 1.72 0 1 0 -3.44 0M161.65 383.92a1.72 1.72 0 1 0 3.44 0a1.72 1.72 0 1 0 -3.44 0M161.65 378.65a1.72 1.72 0 1 0 3.44 0a1.72 1.72 0 1 0 -3.44 0M161.65 373.38a1.72 1.72 0 1 0 3.44 0a1.72 1.72 0 1 0 -3.44 0M161.65 368.11a1.72 1.72 0 1 0 3.44 0a1.72 1.72 0 1 0 -3.44 0M161.65 362.84a1.72 1.72 0 1 0 3.44 0a1.72 1.72 0 1 0 -3.44 0M161.65 357.57a1.72 1.72 0 1 0 3.44 0a1.72 1.72 0 1 0 -3.44 0M166.91 410.27a1.72 1.72 0 1 0 3.44 0a1.72 1.72 0 1 0 -3.44 0M166.91 394.46a1.72 1.72 0 1 0 3.44 0a1.72 1.72 0 1 0 -3.44 0M166.91 389.19a1.72 1.72 0 1 0 3.44 0a1.72 1.72 0 1 0 -3.44 0M166.91 383.92a1.72 1.72 0 1 0 3.44 0a1.72 1.72 0 1 0 -3.44 0M166.91 378.65a1.72 1.72 0 1 0 3.44 0a1.72 1.72 0 1 0 -3.44 0M166.91 373.38a1.72 1.72 0 1 0 3.44 0a1.72 1.72 0 1 0 -3.44 0M166.91 368.11a1.72 1.72 0 1 0 3.44 0a1.72 1.72 0 1 0 -3.44 0M166.91 362.84a1.72 1.72 0 1 0 3.44 0a1.72 1.72 0 1 0 -3.44 0M172.17 415.54a1.72 1.72 0 1 0 3.44 0a1.72 1.72 0 1 0 -3.44 0M172.17 394.46a1.72 1.72 0 1 0 3.44 0a1.72 1.72 0 1 0 -3.44 0M172.17 389.19a1.72 1.72 0 1 0 3.44 0a1.72 1.72 0 1 0 -3.44 0M172.17 383.92a1.72 1.72 0 1 0 3.44 0a1.72 1.72 0 1 0 -3.44 0M172.17 378.65a1.72 1.72 0 1 0 3.44 0a1.72 1.72 0 1 0 -3.44 0M172.17 373.38a1.72 1.72 0 1 0 3.44 0a1.72 1.72 0 1 0 -3.44 0M172.17 362.84a1.72 1.72 0 1 0 3.44 0a1.72 1.72 0 1 0 -3.44 0M172.17 357.57a1.72 1.72 0 1 0 3.44 0a1.72 1.72 0 1 0 -3.44 0M177.43 399.73a1.72 1.72 0 1 0 3.44 0a1.72 1.72 0 1 0 -3.44 0M177.43 394.46a1.72 1.72 0 1 0 3.44 0a1.72 1.72 0 1 0 -3.44 0M177.43 389.19a1.72 1.72 0 1 0 3.44 0a1.72 1.72 0 1 0 -3.44 0M177.43 383.92a1.72 1.72 0 1 0 3.44 0a1.72 1.72 0 1 0 -3.44 0M177.43 378.65a1.72 1.72 0 1 0 3.44 0a1.72 1.72 0 1 0 -3.44 0M177.43 373.38a1.72 1.72 0 1 0 3.44 0a1.72 1.72 0 1 0 -3.44 0M177.43 362.84a1.72 1.72 0 1 0 3.44 0a1.72 1.72 0 1 0 -3.44 0M177.43 357.57a1.72 1.72 0 1 0 3.44 0a1.72 1.72 0 1 0 -3.44 0M182.69 405.00a1.72 1.72 0 1 0 3.44 0a1.72 1.72 0 1 0 -3.44 0M182.69 399.73a1.72 1.72 0 1 0 3.44 0a1.72 1.72 0 1 0 -3.44 0M182.69 383.92a1.72 1.72 0 1 0 3.44 0a1.72 1.72 0 1 0 -3.44 0M182.69 378.65a1.72 1.72 0 1 0 3.44 0a1.72 1.72 0 1 0 -3.44 0M182.69 373.38a1.72 1.72 0 1 0 3.44 0a1.72 1.72 0 1 0 -3.44 0M182.69 368.11a1.72 1.72 0 1 0 3.44 0a1.72 1.72 0 1 0 -3.44 0M182.69 362.84a1.72 1.72 0 1 0 3.44 0a1.72 1.72 0 1 0 -3.44 0M182.69 357.57a1.72 1.72 0 1 0 3.44 0a1.72 1.72 0 1 0 -3.44 0M182.69 347.03a1.72 1.72 0 1 0 3.44 0a1.72 1.72 0 1 0 -3.44 0M187.95 405.00a1.72 1.72 0 1 0 3.44 0a1.72 1.72 0 1 0 -3.44 0M187.95 394.46a1.72 1.72 0 1 0 3.44 0a1.72 1.72 0 1 0 -3.44 0M187.95 389.19a1.72 1.72 0 1 0 3.44 0a1.72 1.72 0 1 0 -3.44 0M187.95 383.92a1.72 1.72 0 1 0 3.44 0a1.72 1.72 0 1 0 -3.44 0M187.95 378.65a1.72 1.72 0 1 0 3.44 0a1.72 1.72 0 1 0 -3.44 0M187.95 368.11a1.72 1.72 0 1 0 3.44 0a1.72 1.72 0 1 0 -3.44 0M187.95 362.84a1.72 1.72 0 1 0 3.44 0a1.72 1.72 0 1 0 -3.44 0M187.95 357.57a1.72 1.72 0 1 0 3.44 0a1.72 1.72 0 1 0 -3.44 0M187.95 352.30a1.72 1.72 0 1 0 3.44 0a1.72 1.72 0 1 0 -3.44 0M193.21 378.65a1.72 1.72 0 1 0 3.44 0a1.72 1.72 0 1 0 -3.44 0M193.21 373.38a1.72 1.72 0 1 0 3.44 0a1.72 1.72 0 1 0 -3.44 0M193.21 368.11a1.72 1.72 0 1 0 3.44 0a1.72 1.72 0 1 0 -3.44 0M193.21 362.84a1.72 1.72 0 1 0 3.44 0a1.72 1.72 0 1 0 -3.44 0M193.21 352.30a1.72 1.72 0 1 0 3.44 0a1.72 1.72 0 1 0 -3.44 0M193.21 347.03a1.72 1.72 0 1 0 3.44 0a1.72 1.72 0 1 0 -3.44 0M193.21 341.76a1.72 1.72 0 1 0 3.44 0a1.72 1.72 0 1 0 -3.44 0M198.47 378.65a1.72 1.72 0 1 0 3.44 0a1.72 1.72 0 1 0 -3.44 0M198.47 373.38a1.72 1.72 0 1 0 3.44 0a1.72 1.72 0 1 0 -3.44 0M198.47 368.11a1.72 1.72 0 1 0 3.44 0a1.72 1.72 0 1 0 -3.44 0M198.47 362.84a1.72 1.72 0 1 0 3.44 0a1.72 1.72 0 1 0 -3.44 0M198.47 357.57a1.72 1.72 0 1 0 3.44 0a1.72 1.72 0 1 0 -3.44 0M198.47 352.30a1.72 1.72 0 1 0 3.44 0a1.72 1.72 0 1 0 -3.44 0M198.47 341.76a1.72 1.72 0 1 0 3.44 0a1.72 1.72 0 1 0 -3.44 0M203.74 368.11a1.72 1.72 0 1 0 3.44 0a1.72 1.72 0 1 0 -3.44 0M203.74 362.84a1.72 1.72 0 1 0 3.44 0a1.72 1.72 0 1 0 -3.44 0M203.74 357.57a1.72 1.72 0 1 0 3.44 0a1.72 1.72 0 1 0 -3.44 0M203.74 352.30a1.72 1.72 0 1 0 3.44 0a1.72 1.72 0 1 0 -3.44 0M203.74 347.03a1.72 1.72 0 1 0 3.44 0a1.72 1.72 0 1 0 -3.44 0M203.74 341.76a1.72 1.72 0 1 0 3.44 0a1.72 1.72 0 1 0 -3.44 0M209.00 383.92a1.72 1.72 0 1 0 3.44 0a1.72 1.72 0 1 0 -3.44 0M209.00 368.11a1.72 1.72 0 1 0 3.44 0a1.72 1.72 0 1 0 -3.44 0M209.00 362.84a1.72 1.72 0 1 0 3.44 0a1.72 1.72 0 1 0 -3.44 0M209.00 357.57a1.72 1.72 0 1 0 3.44 0a1.72 1.72 0 1 0 -3.44 0M209.00 352.30a1.72 1.72 0 1 0 3.44 0a1.72 1.72 0 1 0 -3.44 0M209.00 341.76a1.72 1.72 0 1 0 3.44 0a1.72 1.72 0 1 0 -3.44 0M214.26 383.92a1.72 1.72 0 1 0 3.44 0a1.72 1.72 0 1 0 -3.44 0M214.26 368.11a1.72 1.72 0 1 0 3.44 0a1.72 1.72 0 1 0 -3.44 0M214.26 362.84a1.72 1.72 0 1 0 3.44 0a1.72 1.72 0 1 0 -3.44 0M214.26 357.57a1.72 1.72 0 1 0 3.44 0a1.72 1.72 0 1 0 -3.44 0M214.26 347.03a1.72 1.72 0 1 0 3.44 0a1.72 1.72 0 1 0 -3.44 0M219.52 368.11a1.72 1.72 0 1 0 3.44 0a1.72 1.72 0 1 0 -3.44 0M219.52 362.84a1.72 1.72 0 1 0 3.44 0a1.72 1.72 0 1 0 -3.44 0M219.52 357.57a1.72 1.72 0 1 0 3.44 0a1.72 1.72 0 1 0 -3.44 0M219.52 347.03a1.72 1.72 0 1 0 3.44 0a1.72 1.72 0 1 0 -3.44 0M219.52 325.95a1.72 1.72 0 1 0 3.44 0a1.72 1.72 0 1 0 -3.44 0M224.78 378.65a1.72 1.72 0 1 0 3.44 0a1.72 1.72 0 1 0 -3.44 0M224.78 357.57a1.72 1.72 0 1 0 3.44 0a1.72 1.72 0 1 0 -3.44 0M224.78 352.30a1.72 1.72 0 1 0 3.44 0a1.72 1.72 0 1 0 -3.44 0M224.78 347.03a1.72 1.72 0 1 0 3.44 0a1.72 1.72 0 1 0 -3.44 0M224.78 341.76a1.72 1.72 0 1 0 3.44 0a1.72 1.72 0 1 0 -3.44 0M224.78 336.49a1.72 1.72 0 1 0 3.44 0a1.72 1.72 0 1 0 -3.44 0M230.04 357.57a1.72 1.72 0 1 0 3.44 0a1.72 1.72 0 1 0 -3.44 0M230.04 352.30a1.72 1.72 0 1 0 3.44 0a1.72 1.72 0 1 0 -3.44 0M230.04 347.03a1.72 1.72 0 1 0 3.44 0a1.72 1.72 0 1 0 -3.44 0M230.04 341.76a1.72 1.72 0 1 0 3.44 0a1.72 1.72 0 1 0 -3.44 0M230.04 325.95a1.72 1.72 0 1 0 3.44 0a1.72 1.72 0 1 0 -3.44 0M235.30 362.84a1.72 1.72 0 1 0 3.44 0a1.72 1.72 0 1 0 -3.44 0M235.30 357.57a1.72 1.72 0 1 0 3.44 0a1.72 1.72 0 1 0 -3.44 0M240.56 357.57a1.72 1.72 0 1 0 3.44 0a1.72 1.72 0 1 0 -3.44 0M240.56 352.30a1.72 1.72 0 1 0 3.44 0a1.72 1.72 0 1 0 -3.44 0M240.56 341.76a1.72 1.72 0 1 0 3.44 0a1.72 1.72 0 1 0 -3.44 0M240.56 336.49a1.72 1.72 0 1 0 3.44 0a1.72 1.72 0 1 0 -3.44 0M240.56 331.22a1.72 1.72 0 1 0 3.44 0a1.72 1.72 0 1 0 -3.44 0M240.56 325.95a1.72 1.72 0 1 0 3.44 0a1.72 1.72 0 1 0 -3.44 0M245.82 336.49a1.72 1.72 0 1 0 3.44 0a1.72 1.72 0 1 0 -3.44 0M245.82 331.22a1.72 1.72 0 1 0 3.44 0a1.72 1.72 0 1 0 -3.44 0M251.09 347.03a1.72 1.72 0 1 0 3.44 0a1.72 1.72 0 1 0 -3.44 0M256.35 362.84a1.72 1.72 0 1 0 3.44 0a1.72 1.72 0 1 0 -3.44 0M256.35 341.76a1.72 1.72 0 1 0 3.44 0a1.72 1.72 0 1 0 -3.44 0M256.35 315.41a1.72 1.72 0 1 0 3.44 0a1.72 1.72 0 1 0 -3.44 0M261.61 336.49a1.72 1.72 0 1 0 3.44 0a1.72 1.72 0 1 0 -3.44 0M266.87 341.76a1.72 1.72 0 1 0 3.44 0a1.72 1.72 0 1 0 -3.44 0M266.87 331.22a1.72 1.72 0 1 0 3.44 0a1.72 1.72 0 1 0 -3.44 0M266.87 325.95a1.72 1.72 0 1 0 3.44 0a1.72 1.72 0 1 0 -3.44 0M272.13 331.22a1.72 1.72 0 1 0 3.44 0a1.72 1.72 0 1 0 -3.44 0M272.13 315.41a1.72 1.72 0 1 0 3.44 0a1.72 1.72 0 1 0 -3.44 0M277.39 347.03a1.72 1.72 0 1 0 3.44 0a1.72 1.72 0 1 0 -3.44 0M277.39 310.14a1.72 1.72 0 1 0 3.44 0a1.72 1.72 0 1 0 -3.44 0M282.65 310.14a1.72 1.72 0 1 0 3.44 0a1.72 1.72 0 1 0 -3.44 0M282.65 304.87a1.72 1.72 0 1 0 3.44 0a1.72 1.72 0 1 0 -3.44 0M287.91 310.14a1.72 1.72 0 1 0 3.44 0a1.72 1.72 0 1 0 -3.44 0"/>
<text x="347.2" y="279.7" font-size="15.6" fill="#000">D</text>
<text x="513.5" y="267.8" class="t">Primary cohort</text>
<text x="513.5" y="281.9" class="t">COPD patients (<tspan font-style="italic">n</tspan>=1041)</text>
<path d="M368.2 291.1V466.7H683.3" class="ax" stroke="#cbcbcb" stroke-width="1.5"/>
<text x="362.9" y="460.60" class="tl">0.0</text>
<text x="382.70" y="473.75" class="tl">0.0</text>
<text x="362.9" y="434.18" class="tl">1.0</text>
<text x="430.17" y="473.75" class="tl">1.0</text>
<text x="362.9" y="407.76" class="tl">2.0</text>
<text x="477.64" y="473.75" class="tl">2.0</text>
<text x="362.9" y="381.34" class="tl">3.0</text>
<text x="525.11" y="473.75" class="tl">3.0</text>
<text x="362.9" y="354.92" class="tl">4.0</text>
<text x="572.58" y="473.75" class="tl">4.0</text>
<text x="362.9" y="328.50" class="tl">5.0</text>
<text x="620.05" y="473.75" class="tl">5.0</text>
<text x="362.9" y="302.08" class="tl">6.0</text>
<text x="667.52" y="473.75" class="tl">6.0</text>
<text transform="translate(353.00 379.94) rotate(-90)" class="at">CCQ</text>
<text x="526.0" y="486.00" class="at">OLD-Q</text>
<line x1="368.4" y1="459.7" x2="683.6" y2="291.7" stroke="#f29595" stroke-width="1.05"/>
<path fill="#ec474b" d="M381.88 458.30a1.72 1.72 0 1 0 3.44 0a1.72 1.72 0 1 0 -3.44 0M381.88 455.66a1.72 1.72 0 1 0 3.44 0a1.72 1.72 0 1 0 -3.44 0M381.88 453.02a1.72 1.72 0 1 0 3.44 0a1.72 1.72 0 1 0 -3.44 0M381.88 450.37a1.72 1.72 0 1 0 3.44 0a1.72 1.72 0 1 0 -3.44 0M381.88 447.73a1.72 1.72 0 1 0 3.44 0a1.72 1.72 0 1 0 -3.44 0M381.88 445.09a1.72 1.72 0 1 0 3.44 0a1.72 1.72 0 1 0 -3.44 0M387.14 455.66a1.72 1.72 0 1 0 3.44 0a1.72 1.72 0 1 0 -3.44 0M387.14 453.02a1.72 1.72 0 1 0 3.44 0a1.72 1.72 0 1 0 -3.44 0M387.14 450.37a1.72 1.72 0 1 0 3.44 0a1.72 1.72 0 1 0 -3.44 0M387.14 447.73a1.72 1.72 0 1 0 3.44 0a1.72 1.72 0 1 0 -3.44 0M387.14 445.09a1.72 1.72 0 1 0 3.44 0a1.72 1.72 0 1 0 -3.44 0M392.39 458.30a1.72 1.72 0 1 0 3.44 0a1.72 1.72 0 1 0 -3.44 0M392.39 453.02a1.72 1.72 0 1 0 3.44 0a1.72 1.72 0 1 0 -3.44 0M392.39 450.37a1.72 1.72 0 1 0 3.44 0a1.72 1.72 0 1 0 -3.44 0M392.39 447.73a1.72 1.72 0 1 0 3.44 0a1.72 1.72 0 1 0 -3.44 0M392.39 445.09a1.72 1.72 0 1 0 3.44 0a1.72 1.72 0 1 0 -3.44 0M392.39 442.45a1.72 1.72 0 1 0 3.44 0a1.72 1.72 0 1 0 -3.44 0M392.39 437.16a1.72 1.72 0 1 0 3.44 0a1.72 1.72 0 1 0 -3.44 0M392.39 434.52a1.72 1.72 0 1 0 3.44 0a1.72 1.72 0 1 0 -3.44 0M397.65 458.30a1.72 1.72 0 1 0 3.44 0a1.72 1.72 0 1 0 -3.44 0M397.65 450.37a1.72 1.72 0 1 0 3.44 0a1.72 1.72 0 1 0 -3.44 0M397.65 447.73a1.72 1.72 0 1 0 3.44 0a1.72 1.72 0 1 0 -3.44 0M397.65 445.09a1.72 1.72 0 1 0 3.44 0a1.72 1.72 0 1 0 -3.44 0M397.65 442.45a1.72 1.72 0 1 0 3.44 0a1.72 1.72 0 1 0 -3.44 0M397.65 439.81a1.72 1.72 0 1 0 3.44 0a1.72 1.72 0 1 0 -3.44 0M397.65 437.16a1.72 1.72 0 1 0 3.44 0a1.72 1.72 0 1 0 -3.44 0M397.65 434.52a1.72 1.72 0 1 0 3.44 0a1.72 1.72 0 1 0 -3.44 0M402.90 455.66a1.72 1.72 0 1 0 3.44 0a1.72 1.72 0 1 0 -3.44 0M402.90 453.02a1.72 1.72 0 1 0 3.44 0a1.72 1.72 0 1 0 -3.44 0M402.90 447.73a1.72 1.72 0 1 0 3.44 0a1.72 1.72 0 1 0 -3.44 0M402.90 445.09a1.72 1.72 0 1 0 3.44 0a1.72 1.72 0 1 0 -3.44 0M402.90 442.45a1.72 1.72 0 1 0 3.44 0a1.72 1.72 0 1 0 -3.44 0M402.90 439.81a1.72 1.72 0 1 0 3.44 0a1.72 1.72 0 1 0 -3.44 0M402.90 437.16a1.72 1.72 0 1 0 3.44 0a1.72 1.72 0 1 0 -3.44 0M402.90 434.52a1.72 1.72 0 1 0 3.44 0a1.72 1.72 0 1 0 -3.44 0M402.90 431.88a1.72 1.72 0 1 0 3.44 0a1.72 1.72 0 1 0 -3.44 0M402.90 421.31a1.72 1.72 0 1 0 3.44 0a1.72 1.72 0 1 0 -3.44 0M408.16 450.37a1.72 1.72 0 1 0 3.44 0a1.72 1.72 0 1 0 -3.44 0M408.16 447.73a1.72 1.72 0 1 0 3.44 0a1.72 1.72 0 1 0 -3.44 0M408.16 445.09a1.72 1.72 0 1 0 3.44 0a1.72 1.72 0 1 0 -3.44 0M408.16 442.45a1.72 1.72 0 1 0 3.44 0a1.72 1.72 0 1 0 -3.44 0M408.16 439.81a1.72 1.72 0 1 0 3.44 0a1.72 1.72 0 1 0 -3.44 0M408.16 437.16a1.72 1.72 0 1 0 3.44 0a1.72 1.72 0 1 0 -3.44 0M408.16 434.52a1.72 1.72 0 1 0 3.44 0a1.72 1.72 0 1 0 -3.44 0M408.16 431.88a1.72 1.72 0 1 0 3.44 0a1.72 1.72 0 1 0 -3.44 0M408.16 429.24a1.72 1.72 0 1 0 3.44 0a1.72 1.72 0 1 0 -3.44 0M408.16 426.60a1.72 1.72 0 1 0 3.44 0a1.72 1.72 0 1 0 -3.44 0M413.41 453.02a1.72 1.72 0 1 0 3.44 0a1.72 1.72 0 1 0 -3.44 0M413.41 447.73a1.72 1.72 0 1 0 3.44 0a1.72 1.72 0 1 0 -3.44 0M413.41 442.45a1.72 1.72 0 1 0 3.44 0a1.72 1.72 0 1 0 -3.44 0M413.41 439.81a1.72 1.72 0 1 0 3.44 0a1.72 1.72 0 1 0 -3.44 0M413.41 437.16a1.72 1.72 0 1 0 3.44 0a1.72 1.72 0 1 0 -3.44 0M413.41 434.52a1.72 1.72 0 1 0 3.44 0a1.72 1.72 0 1 0 -3.44 0M413.41 431.88a1.72 1.72 0 1 0 3.44 0a1.72 1.72 0 1 0 -3.44 0M413.41 429.24a1.72 1.72 0 1 0 3.44 0a1.72 1.72 0 1 0 -3.44 0M413.41 426.60a1.72 1.72 0 1 0 3.44 0a1.72 1.72 0 1 0 -3.44 0M413.41 423.95a1.72 1.72 0 1 0 3.44 0a1.72 1.72 0 1 0 -3.44 0M413.41 421.31a1.72 1.72 0 1 0 3.44 0a1.72 1.72 0 1 0 -3.44 0M413.41 418.67a1.72 1.72 0 1 0 3.44 0a1.72 1.72 0 1 0 -3.44 0M418.67 450.37a1.72 1.72 0 1 0 3.44 0a1.72 1.72 0 1 0 -3.44 0M418.67 445.09a1.72 1.72 0 1 0 3.44 0a1.72 1.72 0 1 0 -3.44 0M418.67 442.45a1.72 1.72 0 1 0 3.44 0a1.72 1.72 0 1 0 -3.44 0M418.67 439.81a1.72 1.72 0 1 0 3.44 0a1.72 1.72 0 1 0 -3.44 0M418.67 437.16a1.72 1.72 0 1 0 3.44 0a1.72 1.72 0 1 0 -3.44 0M418.67 434.52a1.72 1.72 0 1 0 3.44 0a1.72 1.72 0 1 0 -3.44 0M418.67 431.88a1.72 1.72 0 1 0 3.44 0a1.72 1.72 0 1 0 -3.44 0M418.67 429.24a1.72 1.72 0 1 0 3.44 0a1.72 1.72 0 1 0 -3.44 0M418.67 426.60a1.72 1.72 0 1 0 3.44 0a1.72 1.72 0 1 0 -3.44 0M418.67 423.95a1.72 1.72 0 1 0 3.44 0a1.72 1.72 0 1 0 -3.44 0M418.67 421.31a1.72 1.72 0 1 0 3.44 0a1.72 1.72 0 1 0 -3.44 0M418.67 418.67a1.72 1.72 0 1 0 3.44 0a1.72 1.72 0 1 0 -3.44 0M418.67 416.03a1.72 1.72 0 1 0 3.44 0a1.72 1.72 0 1 0 -3.44 0M418.67 413.39a1.72 1.72 0 1 0 3.44 0a1.72 1.72 0 1 0 -3.44 0M418.67 405.46a1.72 1.72 0 1 0 3.44 0a1.72 1.72 0 1 0 -3.44 0M423.92 439.81a1.72 1.72 0 1 0 3.44 0a1.72 1.72 0 1 0 -3.44 0M423.92 437.16a1.72 1.72 0 1 0 3.44 0a1.72 1.72 0 1 0 -3.44 0M423.92 434.52a1.72 1.72 0 1 0 3.44 0a1.72 1.72 0 1 0 -3.44 0M423.92 431.88a1.72 1.72 0 1 0 3.44 0a1.72 1.72 0 1 0 -3.44 0M423.92 429.24a1.72 1.72 0 1 0 3.44 0a1.72 1.72 0 1 0 -3.44 0M423.92 426.60a1.72 1.72 0 1 0 3.44 0a1.72 1.72 0 1 0 -3.44 0M423.92 423.95a1.72 1.72 0 1 0 3.44 0a1.72 1.72 0 1 0 -3.44 0M423.92 418.67a1.72 1.72 0 1 0 3.44 0a1.72 1.72 0 1 0 -3.44 0M423.92 416.03a1.72 1.72 0 1 0 3.44 0a1.72 1.72 0 1 0 -3.44 0M423.92 413.39a1.72 1.72 0 1 0 3.44 0a1.72 1.72 0 1 0 -3.44 0M423.92 410.74a1.72 1.72 0 1 0 3.44 0a1.72 1.72 0 1 0 -3.44 0M429.18 437.16a1.72 1.72 0 1 0 3.44 0a1.72 1.72 0 1 0 -3.44 0M429.18 434.52a1.72 1.72 0 1 0 3.44 0a1.72 1.72 0 1 0 -3.44 0M429.18 431.88a1.72 1.72 0 1 0 3.44 0a1.72 1.72 0 1 0 -3.44 0M429.18 429.24a1.72 1.72 0 1 0 3.44 0a1.72 1.72 0 1 0 -3.44 0M429.18 426.60a1.72 1.72 0 1 0 3.44 0a1.72 1.72 0 1 0 -3.44 0M429.18 423.95a1.72 1.72 0 1 0 3.44 0a1.72 1.72 0 1 0 -3.44 0M429.18 421.31a1.72 1.72 0 1 0 3.44 0a1.72 1.72 0 1 0 -3.44 0M429.18 418.67a1.72 1.72 0 1 0 3.44 0a1.72 1.72 0 1 0 -3.44 0M429.18 416.03a1.72 1.72 0 1 0 3.44 0a1.72 1.72 0 1 0 -3.44 0M429.18 413.39a1.72 1.72 0 1 0 3.44 0a1.72 1.72 0 1 0 -3.44 0M429.18 410.74a1.72 1.72 0 1 0 3.44 0a1.72 1.72 0 1 0 -3.44 0M434.44 447.73a1.72 1.72 0 1 0 3.44 0a1.72 1.72 0 1 0 -3.44 0M434.44 434.52a1.72 1.72 0 1 0 3.44 0a1.72 1.72 0 1 0 -3.44 0M434.44 431.88a1.72 1.72 0 1 0 3.44 0a1.72 1.72 0 1 0 -3.44 0M434.44 429.24a1.72 1.72 0 1 0 3.44 0a1.72 1.72 0 1 0 -3.44 0M434.44 426.60a1.72 1.72 0 1 0 3.44 0a1.72 1.72 0 1 0 -3.44 0M434.44 423.95a1.72 1.72 0 1 0 3.44 0a1.72 1.72 0 1 0 -3.44 0M434.44 421.31a1.72 1.72 0 1 0 3.44 0a1.72 1.72 0 1 0 -3.44 0M434.44 418.67a1.72 1.72 0 1 0 3.44 0a1.72 1.72 0 1 0 -3.44 0M434.44 416.03a1.72 1.72 0 1 0 3.44 0a1.72 1.72 0 1 0 -3.44 0M434.44 413.39a1.72 1.72 0 1 0 3.44 0a1.72 1.72 0 1 0 -3.44 0M434.44 405.46a1.72 1.72 0 1 0 3.44 0a1.72 1.72 0 1 0 -3.44 0M439.69 439.81a1.72 1.72 0 1 0 3.44 0a1.72 1.72 0 1 0 -3.44 0M439.69 437.16a1.72 1.72 0 1 0 3.44 0a1.72 1.72 0 1 0 -3.44 0M439.69 434.52a1.72 1.72 0 1 0 3.44 0a1.72 1.72 0 1 0 -3.44 0M439.69 431.88a1.72 1.72 0 1 0 3.44 0a1.72 1.72 0 1 0 -3.44 0M439.69 429.24a1.72 1.72 0 1 0 3.44 0a1.72 1.72 0 1 0 -3.44 0M439.69 426.60a1.72 1.72 0 1 0 3.44 0a1.72 1.72 0 1 0 -3.44 0M439.69 423.95a1.72 1.72 0 1 0 3.44 0a1.72 1.72 0 1 0 -3.44 0M439.69 421.31a1.72 1.72 0 1 0 3.44 0a1.72 1.72 0 1 0 -3.44 0M439.69 418.67a1.72 1.72 0 1 0 3.44 0a1.72 1.72 0 1 0 -3.44 0M439.69 416.03a1.72 1.72 0 1 0 3.44 0a1.72 1.72 0 1 0 -3.44 0M439.69 413.39a1.72 1.72 0 1 0 3.44 0a1.72 1.72 0 1 0 -3.44 0M439.69 410.74a1.72 1.72 0 1 0 3.44 0a1.72 1.72 0 1 0 -3.44 0M439.69 405.46a1.72 1.72 0 1 0 3.44 0a1.72 1.72 0 1 0 -3.44 0M439.69 402.82a1.72 1.72 0 1 0 3.44 0a1.72 1.72 0 1 0 -3.44 0M439.69 400.18a1.72 1.72 0 1 0 3.44 0a1.72 1.72 0 1 0 -3.44 0M444.95 437.16a1.72 1.72 0 1 0 3.44 0a1.72 1.72 0 1 0 -3.44 0M444.95 434.52a1.72 1.72 0 1 0 3.44 0a1.72 1.72 0 1 0 -3.44 0M444.95 431.88a1.72 1.72 0 1 0 3.44 0a1.72 1.72 0 1 0 -3.44 0M444.95 429.24a1.72 1.72 0 1 0 3.44 0a1.72 1.72 0 1 0 -3.44 0M444.95 426.60a1.72 1.72 0 1 0 3.44 0a1.72 1.72 0 1 0 -3.44 0M444.95 423.95a1.72 1.72 0 1 0 3.44 0a1.72 1.72 0 1 0 -3.44 0M444.95 421.31a1.72 1.72 0 1 0 3.44 0a1.72 1.72 0 1 0 -3.44 0M444.95 418.67a1.72 1.72 0 1 0 3.44 0a1.72 1.72 0 1 0 -3.44 0M444.95 416.03a1.72 1.72 0 1 0 3.44 0a1.72 1.72 0 1 0 -3.44 0M444.95 413.39a1.72 1.72 0 1 0 3.44 0a1.72 1.72 0 1 0 -3.44 0M444.95 410.74a1.72 1.72 0 1 0 3.44 0a1.72 1.72 0 1 0 -3.44 0M444.95 408.10a1.72 1.72 0 1 0 3.44 0a1.72 1.72 0 1 0 -3.44 0M444.95 405.46a1.72 1.72 0 1 0 3.44 0a1.72 1.72 0 1 0 -3.44 0M444.95 402.82a1.72 1.72 0 1 0 3.44 0a1.72 1.72 0 1 0 -3.44 0M444.95 400.18a1.72 1.72 0 1 0 3.44 0a1.72 1.72 0 1 0 -3.44 0M444.95 394.89a1.72 1.72 0 1 0 3.44 0a1.72 1.72 0 1 0 -3.44 0M444.95 386.97a1.72 1.72 0 1 0 3.44 0a1.72 1.72 0 1 0 -3.44 0M450.20 437.16a1.72 1.72 0 1 0 3.44 0a1.72 1.72 0 1 0 -3.44 0M450.20 434.52a1.72 1.72 0 1 0 3.44 0a1.72 1.72 0 1 0 -3.44 0M450.20 429.24a1.72 1.72 0 1 0 3.44 0a1.72 1.72 0 1 0 -3.44 0M450.20 426.60a1.72 1.72 0 1 0 3.44 0a1.72 1.72 0 1 0 -3.44 0M450.20 423.95a1.72 1.72 0 1 0 3.44 0a1.72 1.72 0 1 0 -3.44 0M450.20 421.31a1.72 1.72 0 1 0 3.44 0a1.72 1.72 0 1 0 -3.44 0M450.20 418.67a1.72 1.72 0 1 0 3.44 0a1.72 1.72 0 1 0 -3.44 0M450.20 416.03a1.72 1.72 0 1 0 3.44 0a1.72 1.72 0 1 0 -3.44 0M450.20 413.39a1.72 1.72 0 1 0 3.44 0a1.72 1.72 0 1 0 -3.44 0M450.20 410.74a1.72 1.72 0 1 0 3.44 0a1.72 1.72 0 1 0 -3.44 0M450.20 408.10a1.72 1.72 0 1 0 3.44 0a1.72 1.72 0 1 0 -3.44 0M450.20 405.46a1.72 1.72 0 1 0 3.44 0a1.72 1.72 0 1 0 -3.44 0M450.20 402.82a1.72 1.72 0 1 0 3.44 0a1.72 1.72 0 1 0 -3.44 0M450.20 400.18a1.72 1.72 0 1 0 3.44 0a1.72 1.72 0 1 0 -3.44 0M450.20 397.53a1.72 1.72 0 1 0 3.44 0a1.72 1.72 0 1 0 -3.44 0M450.20 392.25a1.72 1.72 0 1 0 3.44 0a1.72 1.72 0 1 0 -3.44 0M450.20 389.61a1.72 1.72 0 1 0 3.44 0a1.72 1.72 0 1 0 -3.44 0M450.20 386.97a1.72 1.72 0 1 0 3.44 0a1.72 1.72 0 1 0 -3.44 0M455.46 437.16a1.72 1.72 0 1 0 3.44 0a1.72 1.72 0 1 0 -3.44 0M455.46 431.88a1.72 1.72 0 1 0 3.44 0a1.72 1.72 0 1 0 -3.44 0M455.46 426.60a1.72 1.72 0 1 0 3.44 0a1.72 1.72 0 1 0 -3.44 0M455.46 423.95a1.72 1.72 0 1 0 3.44 0a1.72 1.72 0 1 0 -3.44 0M455.46 421.31a1.72 1.72 0 1 0 3.44 0a1.72 1.72 0 1 0 -3.44 0M455.46 418.67a1.72 1.72 0 1 0 3.44 0a1.72 1.72 0 1 0 -3.44 0M455.46 416.03a1.72 1.72 0 1 0 3.44 0a1.72 1.72 0 1 0 -3.44 0M455.46 413.39a1.72 1.72 0 1 0 3.44 0a1.72 1.72 0 1 0 -3.44 0M455.46 410.74a1.72 1.72 0 1 0 3.44 0a1.72 1.72 0 1 0 -3.44 0M455.46 408.10a1.72 1.72 0 1 0 3.44 0a1.72 1.72 0 1 0 -3.44 0M455.46 405.46a1.72 1.72 0 1 0 3.44 0a1.72 1.72 0 1 0 -3.44 0M455.46 402.82a1.72 1.72 0 1 0 3.44 0a1.72 1.72 0 1 0 -3.44 0M455.46 400.18a1.72 1.72 0 1 0 3.44 0a1.72 1.72 0 1 0 -3.44 0M455.46 397.53a1.72 1.72 0 1 0 3.44 0a1.72 1.72 0 1 0 -3.44 0M455.46 394.89a1.72 1.72 0 1 0 3.44 0a1.72 1.72 0 1 0 -3.44 0M455.46 392.25a1.72 1.72 0 1 0 3.44 0a1.72 1.72 0 1 0 -3.44 0M455.46 389.61a1.72 1.72 0 1 0 3.44 0a1.72 1.72 0 1 0 -3.44 0M460.71 442.45a1.72 1.72 0 1 0 3.44 0a1.72 1.72 0 1 0 -3.44 0M460.71 429.24a1.72 1.72 0 1 0 3.44 0a1.72 1.72 0 1 0 -3.44 0M460.71 421.31a1.72 1.72 0 1 0 3.44 0a1.72 1.72 0 1 0 -3.44 0M460.71 418.67a1.72 1.72 0 1 0 3.44 0a1.72 1.72 0 1 0 -3.44 0M460.71 416.03a1.72 1.72 0 1 0 3.44 0a1.72 1.72 0 1 0 -3.44 0M460.71 413.39a1.72 1.72 0 1 0 3.44 0a1.72 1.72 0 1 0 -3.44 0M460.71 410.74a1.72 1.72 0 1 0 3.44 0a1.72 1.72 0 1 0 -3.44 0M460.71 408.10a1.72 1.72 0 1 0 3.44 0a1.72 1.72 0 1 0 -3.44 0M460.71 405.46a1.72 1.72 0 1 0 3.44 0a1.72 1.72 0 1 0 -3.44 0M460.71 402.82a1.72 1.72 0 1 0 3.44 0a1.72 1.72 0 1 0 -3.44 0M460.71 400.18a1.72 1.72 0 1 0 3.44 0a1.72 1.72 0 1 0 -3.44 0M460.71 397.53a1.72 1.72 0 1 0 3.44 0a1.72 1.72 0 1 0 -3.44 0M460.71 394.89a1.72 1.72 0 1 0 3.44 0a1.72 1.72 0 1 0 -3.44 0M460.71 389.61a1.72 1.72 0 1 0 3.44 0a1.72 1.72 0 1 0 -3.44 0M460.71 386.97a1.72 1.72 0 1 0 3.44 0a1.72 1.72 0 1 0 -3.44 0M460.71 373.76a1.72 1.72 0 1 0 3.44 0a1.72 1.72 0 1 0 -3.44 0M465.97 429.24a1.72 1.72 0 1 0 3.44 0a1.72 1.72 0 1 0 -3.44 0M465.97 423.95a1.72 1.72 0 1 0 3.44 0a1.72 1.72 0 1 0 -3.44 0M465.97 421.31a1.72 1.72 0 1 0 3.44 0a1.72 1.72 0 1 0 -3.44 0M465.97 416.03a1.72 1.72 0 1 0 3.44 0a1.72 1.72 0 1 0 -3.44 0M465.97 413.39a1.72 1.72 0 1 0 3.44 0a1.72 1.72 0 1 0 -3.44 0M465.97 410.74a1.72 1.72 0 1 0 3.44 0a1.72 1.72 0 1 0 -3.44 0M465.97 408.10a1.72 1.72 0 1 0 3.44 0a1.72 1.72 0 1 0 -3.44 0M465.97 405.46a1.72 1.72 0 1 0 3.44 0a1.72 1.72 0 1 0 -3.44 0M465.97 402.82a1.72 1.72 0 1 0 3.44 0a1.72 1.72 0 1 0 -3.44 0M465.97 400.18a1.72 1.72 0 1 0 3.44 0a1.72 1.72 0 1 0 -3.44 0M465.97 394.89a1.72 1.72 0 1 0 3.44 0a1.72 1.72 0 1 0 -3.44 0M465.97 392.25a1.72 1.72 0 1 0 3.44 0a1.72 1.72 0 1 0 -3.44 0M465.97 389.61a1.72 1.72 0 1 0 3.44 0a1.72 1.72 0 1 0 -3.44 0M465.97 384.32a1.72 1.72 0 1 0 3.44 0a1.72 1.72 0 1 0 -3.44 0M465.97 379.04a1.72 1.72 0 1 0 3.44 0a1.72 1.72 0 1 0 -3.44 0M471.22 418.67a1.72 1.72 0 1 0 3.44 0a1.72 1.72 0 1 0 -3.44 0M471.22 416.03a1.72 1.72 0 1 0 3.44 0a1.72 1.72 0 1 0 -3.44 0M471.22 413.39a1.72 1.72 0 1 0 3.44 0a1.72 1.72 0 1 0 -3.44 0M471.22 410.74a1.72 1.72 0 1 0 3.44 0a1.72 1.72 0 1 0 -3.44 0M471.22 408.10a1.72 1.72 0 1 0 3.44 0a1.72 1.72 0 1 0 -3.44 0M471.22 405.46a1.72 1.72 0 1 0 3.44 0a1.72 1.72 0 1 0 -3.44 0M471.22 402.82a1.72 1.72 0 1 0 3.44 0a1.72 1.72 0 1 0 -3.44 0M471.22 400.18a1.72 1.72 0 1 0 3.44 0a1.72 1.72 0 1 0 -3.44 0M471.22 397.53a1.72 1.72 0 1 0 3.44 0a1.72 1.72 0 1 0 -3.44 0M471.22 394.89a1.72 1.72 0 1 0 3.44 0a1.72 1.72 0 1 0 -3.44 0M471.22 392.25a1.72 1.72 0 1 0 3.44 0a1.72 1.72 0 1 0 -3.44 0M471.22 389.61a1.72 1.72 0 1 0 3.44 0a1.72 1.72 0 1 0 -3.44 0M471.22 386.97a1.72 1.72 0 1 0 3.44 0a1.72 1.72 0 1 0 -3.44 0M471.22 384.32a1.72 1.72 0 1 0 3.44 0a1.72 1.72 0 1 0 -3.44 0M471.22 379.04a1.72 1.72 0 1 0 3.44 0a1.72 1.72 0 1 0 -3.44 0M471.22 371.11a1.72 1.72 0 1 0 3.44 0a1.72 1.72 0 1 0 -3.44 0M476.48 418.67a1.72 1.72 0 1 0 3.44 0a1.72 1.72 0 1 0 -3.44 0M476.48 413.39a1.72 1.72 0 1 0 3.44 0a1.72 1.72 0 1 0 -3.44 0M476.48 410.74a1.72 1.72 0 1 0 3.44 0a1.72 1.72 0 1 0 -3.44 0M476.48 408.10a1.72 1.72 0 1 0 3.44 0a1.72 1.72 0 1 0 -3.44 0M476.48 405.46a1.72 1.72 0 1 0 3.44 0a1.72 1.72 0 1 0 -3.44 0M476.48 402.82a1.72 1.72 0 1 0 3.44 0a1.72 1.72 0 1 0 -3.44 0M476.48 400.18a1.72 1.72 0 1 0 3.44 0a1.72 1.72 0 1 0 -3.44 0M476.48 397.53a1.72 1.72 0 1 0 3.44 0a1.72 1.72 0 1 0 -3.44 0M476.48 394.89a1.72 1.72 0 1 0 3.44 0a1.72 1.72 0 1 0 -3.44 0M476.48 392.25a1.72 1.72 0 1 0 3.44 0a1.72 1.72 0 1 0 -3.44 0M476.48 381.68a1.72 1.72 0 1 0 3.44 0a1.72 1.72 0 1 0 -3.44 0M476.48 379.04a1.72 1.72 0 1 0 3.44 0a1.72 1.72 0 1 0 -3.44 0M476.48 376.40a1.72 1.72 0 1 0 3.44 0a1.72 1.72 0 1 0 -3.44 0M481.74 423.95a1.72 1.72 0 1 0 3.44 0a1.72 1.72 0 1 0 -3.44 0M481.74 421.31a1.72 1.72 0 1 0 3.44 0a1.72 1.72 0 1 0 -3.44 0M481.74 418.67a1.72 1.72 0 1 0 3.44 0a1.72 1.72 0 1 0 -3.44 0M481.74 410.74a1.72 1.72 0 1 0 3.44 0a1.72 1.72 0 1 0 -3.44 0M481.74 408.10a1.72 1.72 0 1 0 3.44 0a1.72 1.72 0 1 0 -3.44 0M481.74 405.46a1.72 1.72 0 1 0 3.44 0a1.72 1.72 0 1 0 -3.44 0M481.74 402.82a1.72 1.72 0 1 0 3.44 0a1.72 1.72 0 1 0 -3.44 0M481.74 400.18a1.72 1.72 0 1 0 3.44 0a1.72 1.72 0 1 0 -3.44 0M481.74 397.53a1.72 1.72 0 1 0 3.44 0a1.72 1.72 0 1 0 -3.44 0M481.74 394.89a1.72 1.72 0 1 0 3.44 0a1.72 1.72 0 1 0 -3.44 0M481.74 392.25a1.72 1.72 0 1 0 3.44 0a1.72 1.72 0 1 0 -3.44 0M481.74 389.61a1.72 1.72 0 1 0 3.44 0a1.72 1.72 0 1 0 -3.44 0M481.74 386.97a1.72 1.72 0 1 0 3.44 0a1.72 1.72 0 1 0 -3.44 0M481.74 381.68a1.72 1.72 0 1 0 3.44 0a1.72 1.72 0 1 0 -3.44 0M481.74 373.76a1.72 1.72 0 1 0 3.44 0a1.72 1.72 0 1 0 -3.44 0M486.99 421.31a1.72 1.72 0 1 0 3.44 0a1.72 1.72 0 1 0 -3.44 0M486.99 410.74a1.72 1.72 0 1 0 3.44 0a1.72 1.72 0 1 0 -3.44 0M486.99 405.46a1.72 1.72 0 1 0 3.44 0a1.72 1.72 0 1 0 -3.44 0M486.99 402.82a1.72 1.72 0 1 0 3.44 0a1.72 1.72 0 1 0 -3.44 0M486.99 400.18a1.72 1.72 0 1 0 3.44 0a1.72 1.72 0 1 0 -3.44 0M486.99 397.53a1.72 1.72 0 1 0 3.44 0a1.72 1.72 0 1 0 -3.44 0M486.99 394.89a1.72 1.72 0 1 0 3.44 0a1.72 1.72 0 1 0 -3.44 0M486.99 392.25a1.72 1.72 0 1 0 3.44 0a1.72 1.72 0 1 0 -3.44 0M486.99 389.61a1.72 1.72 0 1 0 3.44 0a1.72 1.72 0 1 0 -3.44 0M486.99 386.97a1.72 1.72 0 1 0 3.44 0a1.72 1.72 0 1 0 -3.44 0M486.99 381.68a1.72 1.72 0 1 0 3.44 0a1.72 1.72 0 1 0 -3.44 0M486.99 379.04a1.72 1.72 0 1 0 3.44 0a1.72 1.72 0 1 0 -3.44 0M492.25 421.31a1.72 1.72 0 1 0 3.44 0a1.72 1.72 0 1 0 -3.44 0M492.25 416.03a1.72 1.72 0 1 0 3.44 0a1.72 1.72 0 1 0 -3.44 0M492.25 408.10a1.72 1.72 0 1 0 3.44 0a1.72 1.72 0 1 0 -3.44 0M492.25 405.46a1.72 1.72 0 1 0 3.44 0a1.72 1.72 0 1 0 -3.44 0M492.25 402.82a1.72 1.72 0 1 0 3.44 0a1.72 1.72 0 1 0 -3.44 0M492.25 400.18a1.72 1.72 0 1 0 3.44 0a1.72 1.72 0 1 0 -3.44 0M492.25 397.53a1.72 1.72 0 1 0 3.44 0a1.72 1.72 0 1 0 -3.44 0M492.25 394.89a1.72 1.72 0 1 0 3.44 0a1.72 1.72 0 1 0 -3.44 0M492.25 392.25a1.72 1.72 0 1 0 3.44 0a1.72 1.72 0 1 0 -3.44 0M492.25 389.61a1.72 1.72 0 1 0 3.44 0a1.72 1.72 0 1 0 -3.44 0M492.25 386.97a1.72 1.72 0 1 0 3.44 0a1.72 1.72 0 1 0 -3.44 0M492.25 384.32a1.72 1.72 0 1 0 3.44 0a1.72 1.72 0 1 0 -3.44 0M492.25 381.68a1.72 1.72 0 1 0 3.44 0a1.72 1.72 0 1 0 -3.44 0M492.25 376.40a1.72 1.72 0 1 0 3.44 0a1.72 1.72 0 1 0 -3.44 0M492.25 360.55a1.72 1.72 0 1 0 3.44 0a1.72 1.72 0 1 0 -3.44 0M492.25 357.90a1.72 1.72 0 1 0 3.44 0a1.72 1.72 0 1 0 -3.44 0M492.25 352.62a1.72 1.72 0 1 0 3.44 0a1.72 1.72 0 1 0 -3.44 0M497.50 413.39a1.72 1.72 0 1 0 3.44 0a1.72 1.72 0 1 0 -3.44 0M497.50 405.46a1.72 1.72 0 1 0 3.44 0a1.72 1.72 0 1 0 -3.44 0M497.50 402.82a1.72 1.72 0 1 0 3.44 0a1.72 1.72 0 1 0 -3.44 0M497.50 400.18a1.72 1.72 0 1 0 3.44 0a1.72 1.72 0 1 0 -3.44 0M497.50 397.53a1.72 1.72 0 1 0 3.44 0a1.72 1.72 0 1 0 -3.44 0M497.50 394.89a1.72 1.72 0 1 0 3.44 0a1.72 1.72 0 1 0 -3.44 0M497.50 392.25a1.72 1.72 0 1 0 3.44 0a1.72 1.72 0 1 0 -3.44 0M497.50 389.61a1.72 1.72 0 1 0 3.44 0a1.72 1.72 0 1 0 -3.44 0M497.50 386.97a1.72 1.72 0 1 0 3.44 0a1.72 1.72 0 1 0 -3.44 0M497.50 384.32a1.72 1.72 0 1 0 3.44 0a1.72 1.72 0 1 0 -3.44 0M497.50 381.68a1.72 1.72 0 1 0 3.44 0a1.72 1.72 0 1 0 -3.44 0M497.50 379.04a1.72 1.72 0 1 0 3.44 0a1.72 1.72 0 1 0 -3.44 0M497.50 376.40a1.72 1.72 0 1 0 3.44 0a1.72 1.72 0 1 0 -3.44 0M502.76 416.03a1.72 1.72 0 1 0 3.44 0a1.72 1.72 0 1 0 -3.44 0M502.76 413.39a1.72 1.72 0 1 0 3.44 0a1.72 1.72 0 1 0 -3.44 0M502.76 402.82a1.72 1.72 0 1 0 3.44 0a1.72 1.72 0 1 0 -3.44 0M502.76 400.18a1.72 1.72 0 1 0 3.44 0a1.72 1.72 0 1 0 -3.44 0M502.76 397.53a1.72 1.72 0 1 0 3.44 0a1.72 1.72 0 1 0 -3.44 0M502.76 394.89a1.72 1.72 0 1 0 3.44 0a1.72 1.72 0 1 0 -3.44 0M502.76 392.25a1.72 1.72 0 1 0 3.44 0a1.72 1.72 0 1 0 -3.44 0M502.76 389.61a1.72 1.72 0 1 0 3.44 0a1.72 1.72 0 1 0 -3.44 0M502.76 386.97a1.72 1.72 0 1 0 3.44 0a1.72 1.72 0 1 0 -3.44 0M502.76 384.32a1.72 1.72 0 1 0 3.44 0a1.72 1.72 0 1 0 -3.44 0M502.76 381.68a1.72 1.72 0 1 0 3.44 0a1.72 1.72 0 1 0 -3.44 0M502.76 379.04a1.72 1.72 0 1 0 3.44 0a1.72 1.72 0 1 0 -3.44 0M502.76 371.11a1.72 1.72 0 1 0 3.44 0a1.72 1.72 0 1 0 -3.44 0M502.76 355.26a1.72 1.72 0 1 0 3.44 0a1.72 1.72 0 1 0 -3.44 0M508.01 397.53a1.72 1.72 0 1 0 3.44 0a1.72 1.72 0 1 0 -3.44 0M508.01 392.25a1.72 1.72 0 1 0 3.44 0a1.72 1.72 0 1 0 -3.44 0M508.01 389.61a1.72 1.72 0 1 0 3.44 0a1.72 1.72 0 1 0 -3.44 0M508.01 386.97a1.72 1.72 0 1 0 3.44 0a1.72 1.72 0 1 0 -3.44 0M508.01 384.32a1.72 1.72 0 1 0 3.44 0a1.72 1.72 0 1 0 -3.44 0M508.01 379.04a1.72 1.72 0 1 0 3.44 0a1.72 1.72 0 1 0 -3.44 0M508.01 376.40a1.72 1.72 0 1 0 3.44 0a1.72 1.72 0 1 0 -3.44 0M508.01 368.47a1.72 1.72 0 1 0 3.44 0a1.72 1.72 0 1 0 -3.44 0M508.01 357.90a1.72 1.72 0 1 0 3.44 0a1.72 1.72 0 1 0 -3.44 0M513.27 413.39a1.72 1.72 0 1 0 3.44 0a1.72 1.72 0 1 0 -3.44 0M513.27 408.10a1.72 1.72 0 1 0 3.44 0a1.72 1.72 0 1 0 -3.44 0M513.27 400.18a1.72 1.72 0 1 0 3.44 0a1.72 1.72 0 1 0 -3.44 0M513.27 397.53a1.72 1.72 0 1 0 3.44 0a1.72 1.72 0 1 0 -3.44 0M513.27 394.89a1.72 1.72 0 1 0 3.44 0a1.72 1.72 0 1 0 -3.44 0M513.27 392.25a1.72 1.72 0 1 0 3.44 0a1.72 1.72 0 1 0 -3.44 0M513.27 389.61a1.72 1.72 0 1 0 3.44 0a1.72 1.72 0 1 0 -3.44 0M513.27 386.97a1.72 1.72 0 1 0 3.44 0a1.72 1.72 0 1 0 -3.44 0M513.27 381.68a1.72 1.72 0 1 0 3.44 0a1.72 1.72 0 1 0 -3.44 0M513.27 379.04a1.72 1.72 0 1 0 3.44 0a1.72 1.72 0 1 0 -3.44 0M513.27 376.40a1.72 1.72 0 1 0 3.44 0a1.72 1.72 0 1 0 -3.44 0M513.27 373.76a1.72 1.72 0 1 0 3.44 0a1.72 1.72 0 1 0 -3.44 0M513.27 355.26a1.72 1.72 0 1 0 3.44 0a1.72 1.72 0 1 0 -3.44 0M518.52 402.82a1.72 1.72 0 1 0 3.44 0a1.72 1.72 0 1 0 -3.44 0M518.52 394.89a1.72 1.72 0 1 0 3.44 0a1.72 1.72 0 1 0 -3.44 0M518.52 389.61a1.72 1.72 0 1 0 3.44 0a1.72 1.72 0 1 0 -3.44 0M518.52 371.11a1.72 1.72 0 1 0 3.44 0a1.72 1.72 0 1 0 -3.44 0M518.52 365.83a1.72 1.72 0 1 0 3.44 0a1.72 1.72 0 1 0 -3.44 0M518.52 363.19a1.72 1.72 0 1 0 3.44 0a1.72 1.72 0 1 0 -3.44 0M518.52 352.62a1.72 1.72 0 1 0 3.44 0a1.72 1.72 0 1 0 -3.44 0M523.78 402.82a1.72 1.72 0 1 0 3.44 0a1.72 1.72 0 1 0 -3.44 0M523.78 389.61a1.72 1.72 0 1 0 3.44 0a1.72 1.72 0 1 0 -3.44 0M523.78 386.97a1.72 1.72 0 1 0 3.44 0a1.72 1.72 0 1 0 -3.44 0M523.78 381.68a1.72 1.72 0 1 0 3.44 0a1.72 1.72 0 1 0 -3.44 0M523.78 379.04a1.72 1.72 0 1 0 3.44 0a1.72 1.72 0 1 0 -3.44 0M523.78 371.11a1.72 1.72 0 1 0 3.44 0a1.72 1.72 0 1 0 -3.44 0M523.78 368.47a1.72 1.72 0 1 0 3.44 0a1.72 1.72 0 1 0 -3.44 0M523.78 365.83a1.72 1.72 0 1 0 3.44 0a1.72 1.72 0 1 0 -3.44 0M523.78 360.55a1.72 1.72 0 1 0 3.44 0a1.72 1.72 0 1 0 -3.44 0M529.04 392.25a1.72 1.72 0 1 0 3.44 0a1.72 1.72 0 1 0 -3.44 0M529.04 389.61a1.72 1.72 0 1 0 3.44 0a1.72 1.72 0 1 0 -3.44 0M529.04 384.32a1.72 1.72 0 1 0 3.44 0a1.72 1.72 0 1 0 -3.44 0M529.04 381.68a1.72 1.72 0 1 0 3.44 0a1.72 1.72 0 1 0 -3.44 0M529.04 371.11a1.72 1.72 0 1 0 3.44 0a1.72 1.72 0 1 0 -3.44 0M529.04 365.83a1.72 1.72 0 1 0 3.44 0a1.72 1.72 0 1 0 -3.44 0M534.29 389.61a1.72 1.72 0 1 0 3.44 0a1.72 1.72 0 1 0 -3.44 0M534.29 386.97a1.72 1.72 0 1 0 3.44 0a1.72 1.72 0 1 0 -3.44 0M534.29 371.11a1.72 1.72 0 1 0 3.44 0a1.72 1.72 0 1 0 -3.44 0M534.29 368.47a1.72 1.72 0 1 0 3.44 0a1.72 1.72 0 1 0 -3.44 0M534.29 365.83a1.72 1.72 0 1 0 3.44 0a1.72 1.72 0 1 0 -3.44 0M534.29 363.19a1.72 1.72 0 1 0 3.44 0a1.72 1.72 0 1 0 -3.44 0M534.29 352.62a1.72 1.72 0 1 0 3.44 0a1.72 1.72 0 1 0 -3.44 0M539.55 381.68a1.72 1.72 0 1 0 3.44 0a1.72 1.72 0 1 0 -3.44 0M539.55 376.40a1.72 1.72 0 1 0 3.44 0a1.72 1.72 0 1 0 -3.44 0M539.55 373.76a1.72 1.72 0 1 0 3.44 0a1.72 1.72 0 1 0 -3.44 0M539.55 368.47a1.72 1.72 0 1 0 3.44 0a1.72 1.72 0 1 0 -3.44 0M539.55 363.19a1.72 1.72 0 1 0 3.44 0a1.72 1.72 0 1 0 -3.44 0M539.55 352.62a1.72 1.72 0 1 0 3.44 0a1.72 1.72 0 1 0 -3.44 0M544.80 371.11a1.72 1.72 0 1 0 3.44 0a1.72 1.72 0 1 0 -3.44 0M544.80 365.83a1.72 1.72 0 1 0 3.44 0a1.72 1.72 0 1 0 -3.44 0M544.80 363.19a1.72 1.72 0 1 0 3.44 0a1.72 1.72 0 1 0 -3.44 0M544.80 347.34a1.72 1.72 0 1 0 3.44 0a1.72 1.72 0 1 0 -3.44 0M550.06 381.68a1.72 1.72 0 1 0 3.44 0a1.72 1.72 0 1 0 -3.44 0M550.06 376.40a1.72 1.72 0 1 0 3.44 0a1.72 1.72 0 1 0 -3.44 0M550.06 371.11a1.72 1.72 0 1 0 3.44 0a1.72 1.72 0 1 0 -3.44 0M550.06 363.19a1.72 1.72 0 1 0 3.44 0a1.72 1.72 0 1 0 -3.44 0M550.06 357.90a1.72 1.72 0 1 0 3.44 0a1.72 1.72 0 1 0 -3.44 0M550.06 355.26a1.72 1.72 0 1 0 3.44 0a1.72 1.72 0 1 0 -3.44 0M550.06 349.98a1.72 1.72 0 1 0 3.44 0a1.72 1.72 0 1 0 -3.44 0M555.31 381.68a1.72 1.72 0 1 0 3.44 0a1.72 1.72 0 1 0 -3.44 0M555.31 349.98a1.72 1.72 0 1 0 3.44 0a1.72 1.72 0 1 0 -3.44 0M560.57 373.76a1.72 1.72 0 1 0 3.44 0a1.72 1.72 0 1 0 -3.44 0M560.57 365.83a1.72 1.72 0 1 0 3.44 0a1.72 1.72 0 1 0 -3.44 0M560.57 357.90a1.72 1.72 0 1 0 3.44 0a1.72 1.72 0 1 0 -3.44 0M560.57 352.62a1.72 1.72 0 1 0 3.44 0a1.72 1.72 0 1 0 -3.44 0M560.57 344.69a1.72 1.72 0 1 0 3.44 0a1.72 1.72 0 1 0 -3.44 0M560.57 336.77a1.72 1.72 0 1 0 3.44 0a1.72 1.72 0 1 0 -3.44 0M565.82 363.19a1.72 1.72 0 1 0 3.44 0a1.72 1.72 0 1 0 -3.44 0M565.82 344.69a1.72 1.72 0 1 0 3.44 0a1.72 1.72 0 1 0 -3.44 0M565.82 339.41a1.72 1.72 0 1 0 3.44 0a1.72 1.72 0 1 0 -3.44 0M571.08 363.19a1.72 1.72 0 1 0 3.44 0a1.72 1.72 0 1 0 -3.44 0M571.08 355.26a1.72 1.72 0 1 0 3.44 0a1.72 1.72 0 1 0 -3.44 0M571.08 342.05a1.72 1.72 0 1 0 3.44 0a1.72 1.72 0 1 0 -3.44 0M576.34 360.55a1.72 1.72 0 1 0 3.44 0a1.72 1.72 0 1 0 -3.44 0M576.34 352.62a1.72 1.72 0 1 0 3.44 0a1.72 1.72 0 1 0 -3.44 0M576.34 347.34a1.72 1.72 0 1 0 3.44 0a1.72 1.72 0 1 0 -3.44 0M576.34 344.69a1.72 1.72 0 1 0 3.44 0a1.72 1.72 0 1 0 -3.44 0M576.34 331.48a1.72 1.72 0 1 0 3.44 0a1.72 1.72 0 1 0 -3.44 0M581.59 371.11a1.72 1.72 0 1 0 3.44 0a1.72 1.72 0 1 0 -3.44 0M581.59 363.19a1.72 1.72 0 1 0 3.44 0a1.72 1.72 0 1 0 -3.44 0M581.59 339.41a1.72 1.72 0 1 0 3.44 0a1.72 1.72 0 1 0 -3.44 0M581.59 334.13a1.72 1.72 0 1 0 3.44 0a1.72 1.72 0 1 0 -3.44 0M586.85 349.98a1.72 1.72 0 1 0 3.44 0a1.72 1.72 0 1 0 -3.44 0M586.85 339.41a1.72 1.72 0 1 0 3.44 0a1.72 1.72 0 1 0 -3.44 0M592.10 336.77a1.72 1.72 0 1 0 3.44 0a1.72 1.72 0 1 0 -3.44 0M592.10 331.48a1.72 1.72 0 1 0 3.44 0a1.72 1.72 0 1 0 -3.44 0M592.10 315.63a1.72 1.72 0 1 0 3.44 0a1.72 1.72 0 1 0 -3.44 0M597.36 355.26a1.72 1.72 0 1 0 3.44 0a1.72 1.72 0 1 0 -3.44 0M597.36 344.69a1.72 1.72 0 1 0 3.44 0a1.72 1.72 0 1 0 -3.44 0M597.36 342.05a1.72 1.72 0 1 0 3.44 0a1.72 1.72 0 1 0 -3.44 0M602.61 336.77a1.72 1.72 0 1 0 3.44 0a1.72 1.72 0 1 0 -3.44 0M602.61 315.63a1.72 1.72 0 1 0 3.44 0a1.72 1.72 0 1 0 -3.44 0M607.87 328.84a1.72 1.72 0 1 0 3.44 0a1.72 1.72 0 1 0 -3.44 0M613.12 352.62a1.72 1.72 0 1 0 3.44 0a1.72 1.72 0 1 0 -3.44 0M618.38 318.27a1.72 1.72 0 1 0 3.44 0a1.72 1.72 0 1 0 -3.44 0M623.64 326.20a1.72 1.72 0 1 0 3.44 0a1.72 1.72 0 1 0 -3.44 0M623.64 323.56a1.72 1.72 0 1 0 3.44 0a1.72 1.72 0 1 0 -3.44 0M634.15 315.63a1.72 1.72 0 1 0 3.44 0a1.72 1.72 0 1 0 -3.44 0M649.91 302.42a1.72 1.72 0 1 0 3.44 0a1.72 1.72 0 1 0 -3.44 0"/>
</svg>
</body></html>
